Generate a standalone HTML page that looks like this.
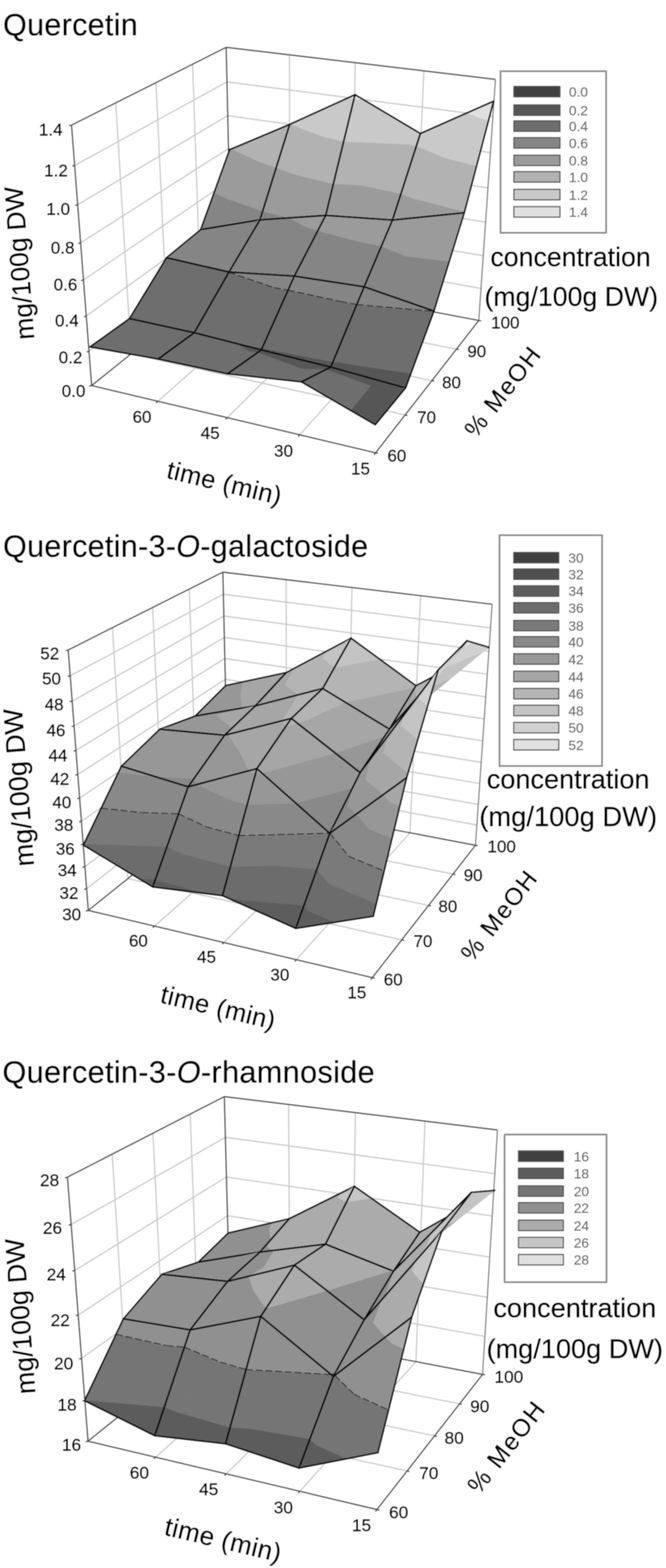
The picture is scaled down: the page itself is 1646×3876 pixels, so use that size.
<!DOCTYPE html>
<html><head><meta charset="utf-8"><title>Quercetin surface plots</title>
<style>
html,body{margin:0;padding:0;background:#fff}
svg{display:block}
text{font-family:"Liberation Sans",sans-serif;stroke:#000;stroke-width:0.9px;stroke-linejoin:round}
text.lg{stroke:#6a6a6a;stroke-width:0.5px}
</style></head><body>
<svg width="1646" height="3876" viewBox="0 0 1646 3876" fill="none" stroke-linejoin="round">
<defs><filter id="soft" x="0" y="0" width="100%" height="100%" filterUnits="userSpaceOnUse" primitiveUnits="userSpaceOnUse"><feGaussianBlur stdDeviation="0.9"/></filter></defs>
<rect width="1646" height="3876" fill="#fff"/>
<g filter="url(#soft)">
<rect width="1646" height="3876" fill="#fff"/>
<path d="M219.9,868.4 L570,601.1" stroke="#cacaca" stroke-width="3.2"/>
<path d="M570,601.1 L1188.7,713.1" stroke="#cacaca" stroke-width="3.2"/>
<path d="M213.2,781.4 L568.3,524.9" stroke="#cacaca" stroke-width="3.2"/>
<path d="M568.3,524.9 L1194.3,632.2" stroke="#cacaca" stroke-width="3.2"/>
<path d="M206.3,692.1 L566.5,447" stroke="#cacaca" stroke-width="3.2"/>
<path d="M566.5,447 L1200.1,549.2" stroke="#cacaca" stroke-width="3.2"/>
<path d="M199.2,600.3 L564.7,367.3" stroke="#cacaca" stroke-width="3.2"/>
<path d="M564.7,367.3 L1205.9,464.3" stroke="#cacaca" stroke-width="3.2"/>
<path d="M192,506 L562.9,285.8" stroke="#cacaca" stroke-width="3.2"/>
<path d="M562.9,285.8 L1212,377.2" stroke="#cacaca" stroke-width="3.2"/>
<path d="M184.5,409 L561,202.4" stroke="#cacaca" stroke-width="3.2"/>
<path d="M561,202.4 L1218.1,287.8" stroke="#cacaca" stroke-width="3.2"/>
<path d="M324.1,874.6 L286.1,254.3" stroke="#cacaca" stroke-width="3.2"/>
<path d="M716.1,703.1 L715.4,135.6" stroke="#cacaca" stroke-width="3.2"/>
<path d="M390.3,991.9 L716.1,703.1" stroke="#cacaca" stroke-width="3.2"/>
<path d="M324.1,874.6 L1001.2,1025.8" stroke="#cacaca" stroke-width="3.2"/>
<path d="M413.6,802.7 L385.5,204.3" stroke="#cacaca" stroke-width="3.2"/>
<path d="M866,731.7 L878.1,155" stroke="#cacaca" stroke-width="3.2"/>
<path d="M561.6,1032.5 L866,731.7" stroke="#cacaca" stroke-width="3.2"/>
<path d="M413.6,802.7 L1067.4,940.8" stroke="#cacaca" stroke-width="3.2"/>
<path d="M495.9,736.6 L476.1,158.7" stroke="#cacaca" stroke-width="3.2"/>
<path d="M1021.6,761.3 L1047.7,175.2" stroke="#cacaca" stroke-width="3.2"/>
<path d="M740.7,1074.9 L1021.6,761.3" stroke="#cacaca" stroke-width="3.2"/>
<path d="M495.9,736.6 L1127.9,863.2" stroke="#cacaca" stroke-width="3.2"/>
<path d="M176.8,309.3 L559,117" stroke="#505050" stroke-width="3.4"/>
<path d="M559,117 L1224.5,196.2" stroke="#505050" stroke-width="3.4"/>
<path d="M571.7,675.6 L559,117" stroke="#505050" stroke-width="3.4"/>
<path d="M226.5,953.1 L176.8,309.3" stroke="#505050" stroke-width="3.4"/>
<path d="M226.5,953.1 L928.3,1119.3" stroke="#505050" stroke-width="3.4"/>
<path d="M928.3,1119.3 L1183.3,792.2" stroke="#505050" stroke-width="3.4"/>
<path d="M226.5,953.1 L571.7,675.6" stroke="#505050" stroke-width="3.4"/>
<path d="M571.7,675.6 L1183.3,792.2" stroke="#505050" stroke-width="3.4"/>
<path d="M1183.3,792.2 L1224.5,196.2" stroke="#7c7c7c" stroke-width="3"/>
<path d="M226.5,953.1 L220.5,954.6" stroke="#505050" stroke-width="3.4"/>
<path d="M219.9,868.4 L213.9,869.9" stroke="#505050" stroke-width="3.4"/>
<path d="M213.2,781.4 L207.2,782.9" stroke="#505050" stroke-width="3.4"/>
<path d="M206.3,692.1 L200.3,693.6" stroke="#505050" stroke-width="3.4"/>
<path d="M199.2,600.3 L193.2,601.8" stroke="#505050" stroke-width="3.4"/>
<path d="M192,506 L186,507.5" stroke="#505050" stroke-width="3.4"/>
<path d="M184.5,409 L178.5,410.5" stroke="#505050" stroke-width="3.4"/>
<path d="M176.8,309.3 L170.8,310.8" stroke="#505050" stroke-width="3.4"/>
<path d="M390.3,991.9 L385.8,995.9" stroke="#505050" stroke-width="3.4"/>
<path d="M561.6,1032.5 L557.3,1036.7" stroke="#505050" stroke-width="3.4"/>
<path d="M740.7,1074.9 L736.7,1079.4" stroke="#505050" stroke-width="3.4"/>
<path d="M928.3,1119.3 L924.6,1124.1" stroke="#505050" stroke-width="3.4"/>
<path d="M928.3,1119.3 L934.2,1120.7" stroke="#505050" stroke-width="3.4"/>
<path d="M1001.2,1025.8 L1007.1,1027.1" stroke="#505050" stroke-width="3.4"/>
<path d="M1067.4,940.8 L1073.3,942" stroke="#505050" stroke-width="3.4"/>
<path d="M1127.9,863.2 L1133.8,864.4" stroke="#505050" stroke-width="3.4"/>
<path d="M1183.3,792.2 L1189.2,793.3" stroke="#505050" stroke-width="3.4"/>
<path d="M496,567.5 L560.7,491 L529.1,476.2 Z" fill="#858585" stroke="#858585" stroke-width="1"/>
<path d="M560.7,491 L638.5,399.1 L572.3,368 L567.5,370 L529.1,476.2 Z" fill="#9b9b9b" stroke="#9b9b9b" stroke-width="1"/>
<path d="M638.5,399.1 L716,307.5 L572.3,368 Z" fill="#b2b2b2" stroke="#b2b2b2" stroke-width="1"/>
<path d="M716,307.5 L567.5,370 M567.5,370 L496,567.5" stroke="#101010" stroke-width="4.2" fill="none" stroke-linecap="round"/>
<path d="M496,567.5 L642.5,543.5 L649.3,521.6 L560.7,491 Z" fill="#858585" stroke="#858585" stroke-width="1"/>
<path d="M649.3,521.6 L682.7,414.4 L638.5,399.1 L560.7,491 Z" fill="#9b9b9b" stroke="#9b9b9b" stroke-width="1"/>
<path d="M682.7,414.4 L716,307.5 L638.5,399.1 Z" fill="#b2b2b2" stroke="#b2b2b2" stroke-width="1"/>
<path d="M496,567.5 L642.5,543.5 M642.5,543.5 L716,307.5" stroke="#101010" stroke-width="4.2" fill="none" stroke-linecap="round"/>
<path d="M642.5,543.5 L657,524.4 L649.3,521.6 Z" fill="#858585" stroke="#858585" stroke-width="1"/>
<path d="M657,524.4 L728,430.9 L682.7,414.4 L649.3,521.6 Z" fill="#9b9b9b" stroke="#9b9b9b" stroke-width="1"/>
<path d="M728,430.9 L799,337.4 L716.5,307.3 L716,307.5 L682.7,414.4 Z" fill="#b2b2b2" stroke="#b2b2b2" stroke-width="1"/>
<path d="M799,337.4 L870,243.9 L862,241 L716.5,307.3 Z" fill="#c9c9c9" stroke="#c9c9c9" stroke-width="1"/>
<path d="M870,243.9 L877.5,234 L862,241 Z" fill="#e0e0e0" stroke="#e0e0e0" stroke-width="1"/>
<path d="M877.5,234 L716,307.5 M716,307.5 L642.5,543.5" stroke="#101010" stroke-width="4.2" fill="none" stroke-linecap="round"/>
<path d="M642.5,543.5 L714.6,538.6 L657,524.4 Z" fill="#858585" stroke="#858585" stroke-width="1"/>
<path d="M714.6,538.6 L805,532.5 L823.9,454.6 L728,430.9 L657,524.4 Z" fill="#9b9b9b" stroke="#9b9b9b" stroke-width="1"/>
<path d="M823.9,454.6 L849.4,349.8 L799,337.4 L728,430.9 Z" fill="#b2b2b2" stroke="#b2b2b2" stroke-width="1"/>
<path d="M849.4,349.8 L874.8,245.1 L870,243.9 L799,337.4 Z" fill="#c9c9c9" stroke="#c9c9c9" stroke-width="1"/>
<path d="M874.8,245.1 L877.5,234 L870,243.9 Z" fill="#e0e0e0" stroke="#e0e0e0" stroke-width="1"/>
<path d="M642.5,543.5 L805,532.5 M805,532.5 L877.5,234" stroke="#101010" stroke-width="4.2" fill="none" stroke-linecap="round"/>
<path d="M805,532.5 L891.8,457.4 L823.9,454.6 Z" fill="#9b9b9b" stroke="#9b9b9b" stroke-width="1"/>
<path d="M891.8,457.4 L1008.4,356.5 L849.4,349.8 L823.9,454.6 Z" fill="#b2b2b2" stroke="#b2b2b2" stroke-width="1"/>
<path d="M1008.4,356.5 L1039,330 L897.8,246.1 L874.8,245.1 L849.4,349.8 Z" fill="#c9c9c9" stroke="#c9c9c9" stroke-width="1"/>
<path d="M897.8,246.1 L877.5,234 L874.8,245.1 Z" fill="#e0e0e0" stroke="#e0e0e0" stroke-width="1"/>
<path d="M1039,330 L877.5,234 M877.5,234 L805,532.5" stroke="#101010" stroke-width="4.2" fill="none" stroke-linecap="round"/>
<path d="M805,532.5 L970,544 L991,478.8 L891.8,457.4 Z" fill="#9b9b9b" stroke="#9b9b9b" stroke-width="1"/>
<path d="M991,478.8 L1029,360.9 L1008.4,356.5 L891.8,457.4 Z" fill="#b2b2b2" stroke="#b2b2b2" stroke-width="1"/>
<path d="M1029,360.9 L1039,330 L1008.4,356.5 Z" fill="#c9c9c9" stroke="#c9c9c9" stroke-width="1"/>
<path d="M805,532.5 L970,544 M970,544 L1039,330" stroke="#101010" stroke-width="4.2" fill="none" stroke-linecap="round"/>
<path d="M970,544 L1016.6,489.2 L991,478.8 Z" fill="#9b9b9b" stroke="#9b9b9b" stroke-width="1"/>
<path d="M1016.6,489.2 L1100.8,390.2 L1029,360.9 L991,478.8 Z" fill="#b2b2b2" stroke="#b2b2b2" stroke-width="1"/>
<path d="M1100.8,390.2 L1185,291.2 L1154.7,278.9 L1039,330 L1029,360.9 Z" fill="#c9c9c9" stroke="#c9c9c9" stroke-width="1"/>
<path d="M1185,291.2 L1220,250 L1154.7,278.9 Z" fill="#e0e0e0" stroke="#e0e0e0" stroke-width="1"/>
<path d="M1220,250 L1039,330 M1039,330 L970,544" stroke="#101010" stroke-width="4.2" fill="none" stroke-linecap="round"/>
<path d="M970,544 L1147.5,526 L1148.2,523.2 L1016.6,489.2 Z" fill="#9b9b9b" stroke="#9b9b9b" stroke-width="1"/>
<path d="M1148.2,523.2 L1177.9,410.1 L1100.8,390.2 L1016.6,489.2 Z" fill="#b2b2b2" stroke="#b2b2b2" stroke-width="1"/>
<path d="M1177.9,410.1 L1207.6,297.1 L1185,291.2 L1100.8,390.2 Z" fill="#c9c9c9" stroke="#c9c9c9" stroke-width="1"/>
<path d="M1207.6,297.1 L1220,250 L1185,291.2 Z" fill="#e0e0e0" stroke="#e0e0e0" stroke-width="1"/>
<path d="M970,544 L1147.5,526 M1147.5,526 L1220,250" stroke="#101010" stroke-width="4.2" fill="none" stroke-linecap="round"/>
<path d="M411.5,637 L642.5,543.5 L496,567.5 Z" fill="#858585" stroke="#858585" stroke-width="1"/>
<path d="M642.5,543.5 L496,567.5 M496,567.5 L411.5,637" stroke="#101010" stroke-width="4.2" fill="none" stroke-linecap="round"/>
<path d="M411.5,637 L566,672.5 L642.5,543.5 Z" fill="#858585" stroke="#858585" stroke-width="1"/>
<path d="M411.5,637 L566,672.5 M566,672.5 L642.5,543.5" stroke="#101010" stroke-width="4.2" fill="none" stroke-linecap="round"/>
<path d="M566,672.5 L756.2,561.1 L714.6,538.6 L642.5,543.5 Z" fill="#858585" stroke="#858585" stroke-width="1"/>
<path d="M756.2,561.1 L805,532.5 L714.6,538.6 Z" fill="#9b9b9b" stroke="#9b9b9b" stroke-width="1"/>
<path d="M805,532.5 L642.5,543.5 M642.5,543.5 L566,672.5" stroke="#101010" stroke-width="4.2" fill="none" stroke-linecap="round"/>
<path d="M566,672.5 L727.5,682.5 L785.4,570.4 L756.2,561.1 Z" fill="#858585" stroke="#858585" stroke-width="1"/>
<path d="M785.4,570.4 L805,532.5 L756.2,561.1 Z" fill="#9b9b9b" stroke="#9b9b9b" stroke-width="1"/>
<path d="M566,672.5 L727.5,682.5 M727.5,682.5 L805,532.5" stroke="#101010" stroke-width="4.2" fill="none" stroke-linecap="round"/>
<path d="M727.5,682.5 L880,595.4 L785.4,570.4 Z" fill="#858585" stroke="#858585" stroke-width="1"/>
<path d="M880,595.4 L970,544 L805,532.5 L785.4,570.4 Z" fill="#9b9b9b" stroke="#9b9b9b" stroke-width="1"/>
<path d="M970,544 L805,532.5 M805,532.5 L727.5,682.5" stroke="#101010" stroke-width="4.2" fill="none" stroke-linecap="round"/>
<path d="M727.5,682.5 L900,709 L942.5,608.8 L880,595.4 Z" fill="#858585" stroke="#858585" stroke-width="1"/>
<path d="M942.5,608.8 L970,544 L880,595.4 Z" fill="#9b9b9b" stroke="#9b9b9b" stroke-width="1"/>
<path d="M727.5,682.5 L900,709 M900,709 L970,544" stroke="#101010" stroke-width="4.2" fill="none" stroke-linecap="round"/>
<path d="M900,709 L1002.6,633.1 L942.5,608.8 Z" fill="#858585" stroke="#858585" stroke-width="1"/>
<path d="M1002.6,633.1 L1147.5,526 L970,544 L942.5,608.8 Z" fill="#9b9b9b" stroke="#9b9b9b" stroke-width="1"/>
<path d="M1147.5,526 L970,544 M970,544 L900,709" stroke="#101010" stroke-width="4.2" fill="none" stroke-linecap="round"/>
<path d="M900,709 L1072.5,769 L1110.4,646.2 L1002.6,633.1 Z" fill="#858585" stroke="#858585" stroke-width="1"/>
<path d="M1110.4,646.2 L1147.5,526 L1002.6,633.1 Z" fill="#9b9b9b" stroke="#9b9b9b" stroke-width="1"/>
<path d="M900,709 L1072.5,769 M1072.5,769 L1147.5,526" stroke="#101010" stroke-width="4.2" fill="none" stroke-linecap="round"/>
<path d="M320,787.5 L565,673 L411.1,637.6 Z" fill="#6e6e6e" stroke="#6e6e6e" stroke-width="1"/>
<path d="M565,673 L566,672.5 L411.5,637 L411.1,637.6 Z" fill="#858585" stroke="#858585" stroke-width="1"/>
<path d="M411.1,637.6 L565,673" stroke="#303030" stroke-width="2.6" stroke-dasharray="17 7" fill="none"/>
<path d="M566,672.5 L411.5,637 M411.5,637 L320,787.5" stroke="#101010" stroke-width="4.2" fill="none" stroke-linecap="round"/>
<path d="M320,787.5 L480,822.5 L565.6,673.1 L565,673 Z" fill="#6e6e6e" stroke="#6e6e6e" stroke-width="1"/>
<path d="M565.6,673.1 L566,672.5 L565,673 Z" fill="#858585" stroke="#858585" stroke-width="1"/>
<path d="M565,673 L565.6,673.1" stroke="#303030" stroke-width="2.6" stroke-dasharray="17 7" fill="none"/>
<path d="M320,787.5 L480,822.5 M480,822.5 L566,672.5" stroke="#101010" stroke-width="4.2" fill="none" stroke-linecap="round"/>
<path d="M480,822.5 L677.1,711 L565.6,673.1 Z" fill="#6e6e6e" stroke="#6e6e6e" stroke-width="1"/>
<path d="M677.1,711 L727.5,682.5 L566,672.5 L565.6,673.1 Z" fill="#858585" stroke="#858585" stroke-width="1"/>
<path d="M565.6,673.1 L677.1,711" stroke="#303030" stroke-width="2.6" stroke-dasharray="17 7" fill="none"/>
<path d="M727.5,682.5 L566,672.5 M566,672.5 L480,822.5" stroke="#101010" stroke-width="4.2" fill="none" stroke-linecap="round"/>
<path d="M583.1,848.9 L646,865 L647.9,860.6 Z" fill="#575757" stroke="#575757" stroke-width="1"/>
<path d="M480,822.5 L583.1,848.9 L647.9,860.6 L712,717.3 L677.1,711 Z" fill="#6e6e6e" stroke="#6e6e6e" stroke-width="1"/>
<path d="M712,717.3 L727.5,682.5 L677.1,711 Z" fill="#858585" stroke="#858585" stroke-width="1"/>
<path d="M677.1,711 L712,717.3" stroke="#303030" stroke-width="2.6" stroke-dasharray="17 7" fill="none"/>
<path d="M480,822.5 L646,865 M646,865 L727.5,682.5" stroke="#101010" stroke-width="4.2" fill="none" stroke-linecap="round"/>
<path d="M646,865 L651.8,861.5 L647.9,860.6 Z" fill="#575757" stroke="#575757" stroke-width="1"/>
<path d="M651.8,861.5 L841.4,745 L712,717.3 L647.9,860.6 Z" fill="#6e6e6e" stroke="#6e6e6e" stroke-width="1"/>
<path d="M841.4,745 L900,709 L727.5,682.5 L712,717.3 Z" fill="#858585" stroke="#858585" stroke-width="1"/>
<path d="M712,717.3 L841.4,745" stroke="#303030" stroke-width="2.6" stroke-dasharray="17 7" fill="none"/>
<path d="M900,709 L727.5,682.5 M727.5,682.5 L646,865" stroke="#101010" stroke-width="4.2" fill="none" stroke-linecap="round"/>
<path d="M646,865 L817.5,907.5 L822.9,894.6 L651.8,861.5 Z" fill="#575757" stroke="#575757" stroke-width="1"/>
<path d="M822.9,894.6 L881.8,752.8 L841.4,745 L651.8,861.5 Z" fill="#6e6e6e" stroke="#6e6e6e" stroke-width="1"/>
<path d="M881.8,752.8 L900,709 L841.4,745 Z" fill="#858585" stroke="#858585" stroke-width="1"/>
<path d="M841.4,745 L881.8,752.8" stroke="#303030" stroke-width="2.6" stroke-dasharray="17 7" fill="none"/>
<path d="M646,865 L817.5,907.5 M817.5,907.5 L900,709" stroke="#101010" stroke-width="4.2" fill="none" stroke-linecap="round"/>
<path d="M817.5,907.5 L838.8,896 L822.9,894.6 Z" fill="#575757" stroke="#575757" stroke-width="1"/>
<path d="M838.8,896 L1071.6,769.5 L881.8,752.8 L822.9,894.6 Z" fill="#6e6e6e" stroke="#6e6e6e" stroke-width="1"/>
<path d="M1071.6,769.5 L1072.5,769 L900,709 L881.8,752.8 Z" fill="#858585" stroke="#858585" stroke-width="1"/>
<path d="M881.8,752.8 L1071.6,769.5" stroke="#303030" stroke-width="2.6" stroke-dasharray="17 7" fill="none"/>
<path d="M1072.5,769 L900,709 M900,709 L817.5,907.5" stroke="#101010" stroke-width="4.2" fill="none" stroke-linecap="round"/>
<path d="M817.5,907.5 L1002.5,959 L1015.7,923.3 L838.8,896 Z" fill="#575757" stroke="#575757" stroke-width="1"/>
<path d="M1015.7,923.3 L1072.3,769.6 L1071.6,769.5 L838.8,896 Z" fill="#6e6e6e" stroke="#6e6e6e" stroke-width="1"/>
<path d="M1072.3,769.6 L1072.5,769 L1071.6,769.5 Z" fill="#858585" stroke="#858585" stroke-width="1"/>
<path d="M1071.6,769.5 L1072.3,769.6" stroke="#303030" stroke-width="2.6" stroke-dasharray="17 7" fill="none"/>
<path d="M817.5,907.5 L1002.5,959 M1002.5,959 L1072.5,769" stroke="#101010" stroke-width="4.2" fill="none" stroke-linecap="round"/>
<path d="M222.5,857.5 L480,822.5 L320,787.5 Z" fill="#6e6e6e" stroke="#6e6e6e" stroke-width="1"/>
<path d="M480,822.5 L320,787.5 M320,787.5 L222.5,857.5" stroke="#101010" stroke-width="4.2" fill="none" stroke-linecap="round"/>
<path d="M222.5,857.5 L391,887.5 L480,822.5 Z" fill="#6e6e6e" stroke="#6e6e6e" stroke-width="1"/>
<path d="M222.5,857.5 L391,887.5 M391,887.5 L480,822.5" stroke="#101010" stroke-width="4.2" fill="none" stroke-linecap="round"/>
<path d="M613,867.9 L646,865 L583.1,848.9 Z" fill="#575757" stroke="#575757" stroke-width="1"/>
<path d="M391,887.5 L613,867.9 L583.1,848.9 L480,822.5 Z" fill="#6e6e6e" stroke="#6e6e6e" stroke-width="1"/>
<path d="M646,865 L480,822.5 M480,822.5 L391,887.5" stroke="#101010" stroke-width="4.2" fill="none" stroke-linecap="round"/>
<path d="M636.4,871.8 L646,865 L613,867.9 Z" fill="#575757" stroke="#575757" stroke-width="1"/>
<path d="M391,887.5 L562.5,924 L636.4,871.8 L613,867.9 Z" fill="#6e6e6e" stroke="#6e6e6e" stroke-width="1"/>
<path d="M391,887.5 L562.5,924 M562.5,924 L646,865" stroke="#101010" stroke-width="4.2" fill="none" stroke-linecap="round"/>
<path d="M746.2,912.1 L817.5,907.5 L646,865 L636.4,871.8 Z" fill="#575757" stroke="#575757" stroke-width="1"/>
<path d="M562.5,924 L746.2,912.1 L636.4,871.8 Z" fill="#6e6e6e" stroke="#6e6e6e" stroke-width="1"/>
<path d="M817.5,907.5 L646,865 M646,865 L562.5,924" stroke="#101010" stroke-width="4.2" fill="none" stroke-linecap="round"/>
<path d="M805.5,913.5 L817.5,907.5 L746.2,912.1 Z" fill="#575757" stroke="#575757" stroke-width="1"/>
<path d="M562.5,924 L745,944 L805.5,913.5 L746.2,912.1 Z" fill="#6e6e6e" stroke="#6e6e6e" stroke-width="1"/>
<path d="M562.5,924 L745,944 M745,944 L817.5,907.5" stroke="#101010" stroke-width="4.2" fill="none" stroke-linecap="round"/>
<path d="M916.3,954 L1002.5,959 L817.5,907.5 L805.5,913.5 Z" fill="#575757" stroke="#575757" stroke-width="1"/>
<path d="M745,944 L916.3,954 L805.5,913.5 Z" fill="#6e6e6e" stroke="#6e6e6e" stroke-width="1"/>
<path d="M1002.5,959 L817.5,907.5 M817.5,907.5 L745,944" stroke="#101010" stroke-width="4.2" fill="none" stroke-linecap="round"/>
<path d="M866.4,1014.5 L927.5,1050 L1002.5,959 L916.3,954 Z" fill="#575757" stroke="#575757" stroke-width="1"/>
<path d="M745,944 L866.4,1014.5 L916.3,954 Z" fill="#6e6e6e" stroke="#6e6e6e" stroke-width="1"/>
<path d="M745,944 L927.5,1050 M927.5,1050 L1002.5,959" stroke="#101010" stroke-width="4.2" fill="none" stroke-linecap="round"/>
<text x="7.5" y="87" font-size="75.5" text-anchor="start" fill="#000" letter-spacing="0.7">Quercetin</text>
<text x="154.5" y="335" font-size="42" text-anchor="end" fill="#000">1.4</text>
<text x="167.5" y="436" font-size="42" text-anchor="end" fill="#000">1.2</text>
<text x="173" y="531" font-size="42" text-anchor="end" fill="#000">1.0</text>
<text x="184" y="627" font-size="42" text-anchor="end" fill="#000">0.8</text>
<text x="191" y="718" font-size="42" text-anchor="end" fill="#000">0.6</text>
<text x="194.5" y="807" font-size="42" text-anchor="end" fill="#000">0.4</text>
<text x="203.5" y="898" font-size="42" text-anchor="end" fill="#000">0.2</text>
<text x="211" y="981" font-size="42" text-anchor="end" fill="#000">0.0</text>
<text x="351" y="1045" font-size="42" text-anchor="middle" fill="#000">60</text>
<text x="519.4" y="1085.3" font-size="42" text-anchor="middle" fill="#000">45</text>
<text x="700.7" y="1129.2" font-size="42" text-anchor="middle" fill="#000">30</text>
<text x="890.9" y="1173" font-size="42" text-anchor="middle" fill="#000">15</text>
<text x="957.5" y="1141" font-size="42" text-anchor="start" fill="#000">60</text>
<text x="1031" y="1046" font-size="42" text-anchor="start" fill="#000">70</text>
<text x="1092.5" y="960" font-size="42" text-anchor="start" fill="#000">80</text>
<text x="1154.9" y="883.4" font-size="42" text-anchor="start" fill="#000">90</text>
<text x="1213.8" y="812" font-size="42" text-anchor="start" fill="#000">100</text>
<text x="0" y="0" font-size="63" text-anchor="start" fill="#000" transform="translate(409,1181) rotate(13.4)" letter-spacing="1">time (min)</text>
<text x="0" y="0" font-size="60" text-anchor="start" fill="#000" transform="translate(1176.6,1085.3) rotate(-51.9)" letter-spacing="4">% MeOH</text>
<text x="0" y="0" font-size="65" text-anchor="start" fill="#000" transform="translate(84.7,838) rotate(-94.4)">mg/100g DW</text>
<text x="1212" y="658" font-size="66" text-anchor="start" fill="#000">concentration</text>
<text x="1197.3" y="755.5" font-size="66" text-anchor="start" fill="#000">(mg/100g DW)</text>
<rect x="1237" y="176" width="261" height="399.5" fill="#fff" stroke="#8c8c8c" stroke-width="4.5"/>
<rect x="1270" y="213.6" width="114" height="26" fill="#404040" stroke="#555" stroke-width="3"/>
<text x="1406" y="239.1" font-size="34" text-anchor="start" fill="#6a6a6a" class="lg">0.0</text>
<rect x="1270" y="259.3" width="114" height="26" fill="#575757" stroke="#555" stroke-width="3"/>
<text x="1406" y="284.8" font-size="34" text-anchor="start" fill="#6a6a6a" class="lg">0.2</text>
<rect x="1270" y="298.7" width="114" height="26" fill="#6e6e6e" stroke="#555" stroke-width="3"/>
<text x="1406" y="324.2" font-size="34" text-anchor="start" fill="#6a6a6a" class="lg">0.4</text>
<rect x="1270" y="340.3" width="114" height="26" fill="#858585" stroke="#555" stroke-width="3"/>
<text x="1406" y="365.8" font-size="34" text-anchor="start" fill="#6a6a6a" class="lg">0.6</text>
<rect x="1270" y="383.6" width="114" height="26" fill="#9b9b9b" stroke="#555" stroke-width="3"/>
<text x="1406" y="409.1" font-size="34" text-anchor="start" fill="#6a6a6a" class="lg">0.8</text>
<rect x="1270" y="424.2" width="114" height="26" fill="#b2b2b2" stroke="#555" stroke-width="3"/>
<text x="1406" y="449.7" font-size="34" text-anchor="start" fill="#6a6a6a" class="lg">1.0</text>
<rect x="1270" y="468.1" width="114" height="26" fill="#c9c9c9" stroke="#555" stroke-width="3"/>
<text x="1406" y="493.6" font-size="34" text-anchor="start" fill="#6a6a6a" class="lg">1.2</text>
<rect x="1270" y="510.8" width="114" height="26" fill="#e0e0e0" stroke="#555" stroke-width="3"/>
<text x="1406" y="536.3" font-size="34" text-anchor="start" fill="#6a6a6a" class="lg">1.4</text>
<path d="M214.1,2196.8 L562.5,1925.7" stroke="#cacaca" stroke-width="3.2"/>
<path d="M562.5,1925.7 L1178.5,2039.4" stroke="#cacaca" stroke-width="3.2"/>
<path d="M209.9,2142.3 L561.4,1877.8" stroke="#cacaca" stroke-width="3.2"/>
<path d="M561.4,1877.8 L1182,1988.6" stroke="#cacaca" stroke-width="3.2"/>
<path d="M205.6,2086.8 L560.3,1829.3" stroke="#cacaca" stroke-width="3.2"/>
<path d="M560.3,1829.3 L1185.6,1937" stroke="#cacaca" stroke-width="3.2"/>
<path d="M201.3,2030.3 L559.1,1780" stroke="#cacaca" stroke-width="3.2"/>
<path d="M559.1,1780 L1189.2,1884.6" stroke="#cacaca" stroke-width="3.2"/>
<path d="M196.8,1972.9 L558,1730" stroke="#cacaca" stroke-width="3.2"/>
<path d="M558,1730 L1192.9,1831.3" stroke="#cacaca" stroke-width="3.2"/>
<path d="M192.3,1914.5 L556.9,1679.3" stroke="#cacaca" stroke-width="3.2"/>
<path d="M556.9,1679.3 L1196.7,1777.2" stroke="#cacaca" stroke-width="3.2"/>
<path d="M187.7,1855.1 L555.7,1627.9" stroke="#cacaca" stroke-width="3.2"/>
<path d="M555.7,1627.9 L1200.5,1722.3" stroke="#cacaca" stroke-width="3.2"/>
<path d="M183.1,1794.7 L554.5,1575.7" stroke="#cacaca" stroke-width="3.2"/>
<path d="M554.5,1575.7 L1204.3,1666.5" stroke="#cacaca" stroke-width="3.2"/>
<path d="M178.3,1733.1 L553.3,1522.7" stroke="#cacaca" stroke-width="3.2"/>
<path d="M553.3,1522.7 L1208.2,1609.8" stroke="#cacaca" stroke-width="3.2"/>
<path d="M173.5,1670.5 L552.1,1468.9" stroke="#cacaca" stroke-width="3.2"/>
<path d="M552.1,1468.9 L1212.2,1552.2" stroke="#cacaca" stroke-width="3.2"/>
<path d="M315.9,2172 L277.9,1551.7" stroke="#cacaca" stroke-width="3.2"/>
<path d="M707.9,2000.5 L707.2,1433" stroke="#cacaca" stroke-width="3.2"/>
<path d="M382.1,2289.3 L707.9,2000.5" stroke="#cacaca" stroke-width="3.2"/>
<path d="M315.9,2172 L993,2323.2" stroke="#cacaca" stroke-width="3.2"/>
<path d="M405.4,2100 L377.2,1501.7" stroke="#cacaca" stroke-width="3.2"/>
<path d="M857.7,2029 L869.9,1452.3" stroke="#cacaca" stroke-width="3.2"/>
<path d="M553.4,2329.8 L857.7,2029" stroke="#cacaca" stroke-width="3.2"/>
<path d="M405.4,2100 L1059.2,2238.2" stroke="#cacaca" stroke-width="3.2"/>
<path d="M487.7,2033.9 L467.8,1456.1" stroke="#cacaca" stroke-width="3.2"/>
<path d="M1013.3,2058.7 L1039.5,1472.5" stroke="#cacaca" stroke-width="3.2"/>
<path d="M732.5,2372.3 L1013.3,2058.7" stroke="#cacaca" stroke-width="3.2"/>
<path d="M487.7,2033.9 L1119.7,2160.6" stroke="#cacaca" stroke-width="3.2"/>
<path d="M168.6,1606.7 L550.8,1414.3" stroke="#505050" stroke-width="3.4"/>
<path d="M550.8,1414.3 L1216.3,1493.6" stroke="#505050" stroke-width="3.4"/>
<path d="M563.5,1972.9 L550.8,1414.3" stroke="#505050" stroke-width="3.4"/>
<path d="M218.2,2250.5 L168.6,1606.7" stroke="#505050" stroke-width="3.4"/>
<path d="M218.2,2250.5 L920.1,2416.7" stroke="#505050" stroke-width="3.4"/>
<path d="M920.1,2416.7 L1175.1,2089.5" stroke="#505050" stroke-width="3.4"/>
<path d="M218.2,2250.5 L563.5,1972.9" stroke="#505050" stroke-width="3.4"/>
<path d="M563.5,1972.9 L1175.1,2089.5" stroke="#505050" stroke-width="3.4"/>
<path d="M1175.1,2089.5 L1216.3,1493.6" stroke="#7c7c7c" stroke-width="3"/>
<path d="M218.2,2250.5 L212.2,2252" stroke="#505050" stroke-width="3.4"/>
<path d="M214.1,2196.8 L208.1,2198.3" stroke="#505050" stroke-width="3.4"/>
<path d="M209.9,2142.3 L203.9,2143.8" stroke="#505050" stroke-width="3.4"/>
<path d="M205.6,2086.8 L199.6,2088.3" stroke="#505050" stroke-width="3.4"/>
<path d="M201.3,2030.3 L195.3,2031.8" stroke="#505050" stroke-width="3.4"/>
<path d="M196.8,1972.9 L190.8,1974.4" stroke="#505050" stroke-width="3.4"/>
<path d="M192.3,1914.5 L186.3,1916" stroke="#505050" stroke-width="3.4"/>
<path d="M187.7,1855.1 L181.7,1856.6" stroke="#505050" stroke-width="3.4"/>
<path d="M183.1,1794.7 L177.1,1796.2" stroke="#505050" stroke-width="3.4"/>
<path d="M178.3,1733.1 L172.3,1734.6" stroke="#505050" stroke-width="3.4"/>
<path d="M173.5,1670.5 L167.5,1672" stroke="#505050" stroke-width="3.4"/>
<path d="M168.6,1606.7 L162.6,1608.2" stroke="#505050" stroke-width="3.4"/>
<path d="M382.1,2289.3 L377.6,2293.3" stroke="#505050" stroke-width="3.4"/>
<path d="M553.4,2329.8 L549.1,2334.1" stroke="#505050" stroke-width="3.4"/>
<path d="M732.5,2372.3 L728.5,2376.7" stroke="#505050" stroke-width="3.4"/>
<path d="M920.1,2416.7 L916.4,2421.4" stroke="#505050" stroke-width="3.4"/>
<path d="M920.1,2416.7 L926,2418.1" stroke="#505050" stroke-width="3.4"/>
<path d="M993,2323.2 L998.9,2324.5" stroke="#505050" stroke-width="3.4"/>
<path d="M1059.2,2238.2 L1065.1,2239.4" stroke="#505050" stroke-width="3.4"/>
<path d="M1119.7,2160.6 L1125.6,2161.8" stroke="#505050" stroke-width="3.4"/>
<path d="M1175.1,2089.5 L1181,2090.7" stroke="#505050" stroke-width="3.4"/>
<path d="M482.5,1770 L594,1716.7 L600,1685.5 L558,1694.5 Z" fill="#979797" stroke="#979797" stroke-width="1"/>
<path d="M594,1716.7 L707.5,1662.5 L600,1685.5 Z" fill="#a6a6a6" stroke="#a6a6a6" stroke-width="1"/>
<path d="M707.5,1662.5 L558,1694.5 M558,1694.5 L482.5,1770" stroke="#101010" stroke-width="4.2" fill="none" stroke-linecap="round"/>
<path d="M482.5,1770 L599.5,1750.3 L594,1716.7 Z" fill="#979797" stroke="#979797" stroke-width="1"/>
<path d="M599.5,1750.3 L631,1745 L707.5,1662.5 L594,1716.7 Z" fill="#a6a6a6" stroke="#a6a6a6" stroke-width="1"/>
<path d="M482.5,1770 L631,1745 M631,1745 L707.5,1662.5" stroke="#101010" stroke-width="4.2" fill="none" stroke-linecap="round"/>
<path d="M631,1745 L704.7,1692.8 L726.4,1652.5 L707.5,1662.5 Z" fill="#a6a6a6" stroke="#a6a6a6" stroke-width="1"/>
<path d="M704.7,1692.8 L796.9,1627.5 L806.3,1610 L726.4,1652.5 Z" fill="#b4b4b4" stroke="#b4b4b4" stroke-width="1"/>
<path d="M796.9,1627.5 L867.5,1577.5 L806.3,1610 Z" fill="#c3c3c3" stroke="#c3c3c3" stroke-width="1"/>
<path d="M867.5,1577.5 L707.5,1662.5 M707.5,1662.5 L631,1745" stroke="#101010" stroke-width="4.2" fill="none" stroke-linecap="round"/>
<path d="M631,1745 L737.6,1717.5 L704.7,1692.8 Z" fill="#a6a6a6" stroke="#a6a6a6" stroke-width="1"/>
<path d="M737.6,1717.5 L797.5,1702 L826.8,1649.8 L796.9,1627.5 L704.7,1692.8 Z" fill="#b4b4b4" stroke="#b4b4b4" stroke-width="1"/>
<path d="M826.8,1649.8 L867.5,1577.5 L796.9,1627.5 Z" fill="#c3c3c3" stroke="#c3c3c3" stroke-width="1"/>
<path d="M631,1745 L797.5,1702 M797.5,1702 L867.5,1577.5" stroke="#101010" stroke-width="4.2" fill="none" stroke-linecap="round"/>
<path d="M797.5,1702 L1028,1695 L938.6,1629.6 L826.8,1649.8 Z" fill="#b4b4b4" stroke="#b4b4b4" stroke-width="1"/>
<path d="M938.6,1629.6 L867.5,1577.5 L826.8,1649.8 Z" fill="#c3c3c3" stroke="#c3c3c3" stroke-width="1"/>
<path d="M1028,1695 L867.5,1577.5 M867.5,1577.5 L797.5,1702" stroke="#101010" stroke-width="4.2" fill="none" stroke-linecap="round"/>
<path d="M853.2,1735.9 L962.5,1802.5 L1025.3,1699.5 Z" fill="#a6a6a6" stroke="#a6a6a6" stroke-width="1"/>
<path d="M797.5,1702 L853.2,1735.9 L1025.3,1699.5 L1028,1695 Z" fill="#b4b4b4" stroke="#b4b4b4" stroke-width="1"/>
<path d="M797.5,1702 L962.5,1802.5 M962.5,1802.5 L1028,1695" stroke="#101010" stroke-width="4.2" fill="none" stroke-linecap="round"/>
<path d="M962.5,1802.5 L1033.3,1744.1 L1025.3,1699.5 Z" fill="#a6a6a6" stroke="#a6a6a6" stroke-width="1"/>
<path d="M1033.3,1744.1 L1113.8,1677.7 L1109.2,1652.2 L1028,1695 L1025.3,1699.5 Z" fill="#b4b4b4" stroke="#b4b4b4" stroke-width="1"/>
<path d="M1113.8,1677.7 L1194.2,1611.3 L1193.6,1607.6 L1109.2,1652.2 Z" fill="#c3c3c3" stroke="#c3c3c3" stroke-width="1"/>
<path d="M1194.2,1611.3 L1208,1600 L1193.6,1607.6 Z" fill="#d1d1d1" stroke="#d1d1d1" stroke-width="1"/>
<path d="M1208,1600 L1028,1695 M1028,1695 L962.5,1802.5" stroke="#101010" stroke-width="4.2" fill="none" stroke-linecap="round"/>
<path d="M962.5,1802.5 L1002.6,1756.8 L1033.3,1744.1 Z" fill="#a6a6a6" stroke="#a6a6a6" stroke-width="1"/>
<path d="M1002.6,1756.8 L1048.1,1704.9 L1113.8,1677.7 L1033.3,1744.1 Z" fill="#b4b4b4" stroke="#b4b4b4" stroke-width="1"/>
<path d="M1048.1,1704.9 L1093.6,1652.9 L1194.2,1611.3 L1113.8,1677.7 Z" fill="#c3c3c3" stroke="#c3c3c3" stroke-width="1"/>
<path d="M1093.6,1652.9 L1139.1,1601 L1169.3,1588.5 L1208,1600 L1194.2,1611.3 Z" fill="#d1d1d1" stroke="#d1d1d1" stroke-width="1"/>
<path d="M1139.1,1601 L1154,1584 L1169.3,1588.5 Z" fill="#e0e0e0" stroke="#e0e0e0" stroke-width="1"/>
<path d="M962.5,1802.5 L1154,1584 M1154,1584 L1208,1600" stroke="#101010" stroke-width="4.2" fill="none" stroke-linecap="round"/>
<path d="M395,1802.5 L535.1,1768.4 L599.5,1750.3 L482.5,1770 Z" fill="#979797" stroke="#979797" stroke-width="1"/>
<path d="M535.1,1768.4 L631,1745 L599.5,1750.3 Z" fill="#a6a6a6" stroke="#a6a6a6" stroke-width="1"/>
<path d="M631,1745 L482.5,1770 M482.5,1770 L395,1802.5" stroke="#101010" stroke-width="4.2" fill="none" stroke-linecap="round"/>
<path d="M395,1802.5 L555,1817.5 L573.5,1799.8 L535.1,1768.4 Z" fill="#979797" stroke="#979797" stroke-width="1"/>
<path d="M573.5,1799.8 L631,1745 L535.1,1768.4 Z" fill="#a6a6a6" stroke="#a6a6a6" stroke-width="1"/>
<path d="M395,1802.5 L555,1817.5 M555,1817.5 L631,1745" stroke="#101010" stroke-width="4.2" fill="none" stroke-linecap="round"/>
<path d="M555,1817.5 L565.4,1812.5 L573.5,1799.8 Z" fill="#979797" stroke="#979797" stroke-width="1"/>
<path d="M565.4,1812.5 L725.6,1736.2 L737.6,1717.5 L631,1745 L573.5,1799.8 Z" fill="#a6a6a6" stroke="#a6a6a6" stroke-width="1"/>
<path d="M725.6,1736.2 L797.5,1702 L737.6,1717.5 Z" fill="#b4b4b4" stroke="#b4b4b4" stroke-width="1"/>
<path d="M797.5,1702 L631,1745 M631,1745 L555,1817.5" stroke="#101010" stroke-width="4.2" fill="none" stroke-linecap="round"/>
<path d="M555,1817.5 L563.7,1815.3 L565.4,1812.5 Z" fill="#979797" stroke="#979797" stroke-width="1"/>
<path d="M563.7,1815.3 L697.8,1781.6 L725.6,1736.2 L565.4,1812.5 Z" fill="#a6a6a6" stroke="#a6a6a6" stroke-width="1"/>
<path d="M697.8,1781.6 L720,1776 L797.5,1702 L725.6,1736.2 Z" fill="#b4b4b4" stroke="#b4b4b4" stroke-width="1"/>
<path d="M555,1817.5 L720,1776 M720,1776 L797.5,1702" stroke="#101010" stroke-width="4.2" fill="none" stroke-linecap="round"/>
<path d="M758.4,1780.2 L962.5,1802.5 L853.2,1735.9 Z" fill="#a6a6a6" stroke="#a6a6a6" stroke-width="1"/>
<path d="M720,1776 L758.4,1780.2 L853.2,1735.9 L797.5,1702 Z" fill="#b4b4b4" stroke="#b4b4b4" stroke-width="1"/>
<path d="M962.5,1802.5 L797.5,1702 M797.5,1702 L720,1776" stroke="#101010" stroke-width="4.2" fill="none" stroke-linecap="round"/>
<path d="M828.6,1861.6 L890,1910 L951.4,1819 Z" fill="#979797" stroke="#979797" stroke-width="1"/>
<path d="M735.4,1788.1 L828.6,1861.6 L951.4,1819 L962.5,1802.5 L758.4,1780.2 Z" fill="#a6a6a6" stroke="#a6a6a6" stroke-width="1"/>
<path d="M720,1776 L735.4,1788.1 L758.4,1780.2 Z" fill="#b4b4b4" stroke="#b4b4b4" stroke-width="1"/>
<path d="M720,1776 L890,1910 M890,1910 L962.5,1802.5" stroke="#101010" stroke-width="4.2" fill="none" stroke-linecap="round"/>
<path d="M890,1910 L924.9,1866.9 L951.4,1819 Z" fill="#979797" stroke="#979797" stroke-width="1"/>
<path d="M924.9,1866.9 L977.9,1801.5 L1002.6,1756.8 L962.5,1802.5 L951.4,1819 Z" fill="#a6a6a6" stroke="#a6a6a6" stroke-width="1"/>
<path d="M977.9,1801.5 L1030.8,1736.1 L1048.1,1704.9 L1002.6,1756.8 Z" fill="#b4b4b4" stroke="#b4b4b4" stroke-width="1"/>
<path d="M1030.8,1736.1 L1083.7,1670.8 L1093.6,1652.9 L1048.1,1704.9 Z" fill="#c3c3c3" stroke="#c3c3c3" stroke-width="1"/>
<path d="M1083.7,1670.8 L1136.7,1605.4 L1139.1,1601 L1093.6,1652.9 Z" fill="#d1d1d1" stroke="#d1d1d1" stroke-width="1"/>
<path d="M1136.7,1605.4 L1154,1584 L1139.1,1601 Z" fill="#e0e0e0" stroke="#e0e0e0" stroke-width="1"/>
<path d="M1154,1584 L962.5,1802.5 M962.5,1802.5 L890,1910" stroke="#101010" stroke-width="4.2" fill="none" stroke-linecap="round"/>
<path d="M890,1910 L916.9,1874.6 L924.9,1866.9 Z" fill="#979797" stroke="#979797" stroke-width="1"/>
<path d="M916.9,1874.6 L957.7,1820.9 L977.9,1801.5 L924.9,1866.9 Z" fill="#a6a6a6" stroke="#a6a6a6" stroke-width="1"/>
<path d="M957.7,1820.9 L998.5,1767.1 L1030.8,1736.1 L977.9,1801.5 Z" fill="#b4b4b4" stroke="#b4b4b4" stroke-width="1"/>
<path d="M998.5,1767.1 L1039.4,1713.4 L1083.7,1670.8 L1030.8,1736.1 Z" fill="#c3c3c3" stroke="#c3c3c3" stroke-width="1"/>
<path d="M1039.4,1713.4 L1080.2,1659.7 L1136.7,1605.4 L1083.7,1670.8 Z" fill="#d1d1d1" stroke="#d1d1d1" stroke-width="1"/>
<path d="M1080.2,1659.7 L1083,1656 L1154,1584 L1136.7,1605.4 Z" fill="#e0e0e0" stroke="#e0e0e0" stroke-width="1"/>
<path d="M890,1910 L1083,1656 M1083,1656 L1154,1584" stroke="#101010" stroke-width="4.2" fill="none" stroke-linecap="round"/>
<path d="M300,1894 L555,1817.5 L395,1802.5 Z" fill="#979797" stroke="#979797" stroke-width="1"/>
<path d="M555,1817.5 L395,1802.5 M395,1802.5 L300,1894" stroke="#101010" stroke-width="4.2" fill="none" stroke-linecap="round"/>
<path d="M382.5,1919.5 L465,1945 L479.3,1924.8 Z" fill="#898989" stroke="#898989" stroke-width="1"/>
<path d="M300,1894 L382.5,1919.5 L479.3,1924.8 L555,1817.5 Z" fill="#979797" stroke="#979797" stroke-width="1"/>
<path d="M300,1894 L465,1945 M465,1945 L555,1817.5" stroke="#101010" stroke-width="4.2" fill="none" stroke-linecap="round"/>
<path d="M465,1945 L484.2,1932.3 L479.3,1924.8 Z" fill="#898989" stroke="#898989" stroke-width="1"/>
<path d="M484.2,1932.3 L593.1,1860.1 L563.7,1815.3 L555,1817.5 L479.3,1924.8 Z" fill="#979797" stroke="#979797" stroke-width="1"/>
<path d="M593.1,1860.1 L702,1787.9 L697.8,1781.6 L563.7,1815.3 Z" fill="#a6a6a6" stroke="#a6a6a6" stroke-width="1"/>
<path d="M702,1787.9 L720,1776 L697.8,1781.6 Z" fill="#b4b4b4" stroke="#b4b4b4" stroke-width="1"/>
<path d="M720,1776 L555,1817.5 M555,1817.5 L465,1945" stroke="#101010" stroke-width="4.2" fill="none" stroke-linecap="round"/>
<path d="M465,1945 L487.6,1939 L484.2,1932.3 Z" fill="#898989" stroke="#898989" stroke-width="1"/>
<path d="M487.6,1939 L615.5,1905.2 L593.1,1860.1 L484.2,1932.3 Z" fill="#979797" stroke="#979797" stroke-width="1"/>
<path d="M615.5,1905.2 L635,1900 L706.1,1796.3 L702,1787.9 L593.1,1860.1 Z" fill="#a6a6a6" stroke="#a6a6a6" stroke-width="1"/>
<path d="M706.1,1796.3 L720,1776 L702,1787.9 Z" fill="#b4b4b4" stroke="#b4b4b4" stroke-width="1"/>
<path d="M465,1945 L635,1900 M635,1900 L720,1776" stroke="#101010" stroke-width="4.2" fill="none" stroke-linecap="round"/>
<path d="M682.9,1901.9 L890,1910 L828.6,1861.6 Z" fill="#979797" stroke="#979797" stroke-width="1"/>
<path d="M635,1900 L682.9,1901.9 L828.6,1861.6 L735.4,1788.1 L706.1,1796.3 Z" fill="#a6a6a6" stroke="#a6a6a6" stroke-width="1"/>
<path d="M735.4,1788.1 L720,1776 L706.1,1796.3 Z" fill="#b4b4b4" stroke="#b4b4b4" stroke-width="1"/>
<path d="M890,1910 L720,1776 M720,1776 L635,1900" stroke="#101010" stroke-width="4.2" fill="none" stroke-linecap="round"/>
<path d="M814.7,2059.7 L815,2060 L815.2,2059.6 Z" fill="#7a7a7a" stroke="#7a7a7a" stroke-width="1"/>
<path d="M731.2,1985.5 L814.7,2059.7 L815.2,2059.6 L871,1948 Z" fill="#898989" stroke="#898989" stroke-width="1"/>
<path d="M647.7,1911.3 L731.2,1985.5 L871,1948 L890,1910 L682.9,1901.9 Z" fill="#979797" stroke="#979797" stroke-width="1"/>
<path d="M635,1900 L647.7,1911.3 L682.9,1901.9 Z" fill="#a6a6a6" stroke="#a6a6a6" stroke-width="1"/>
<path d="M814.7,2059.7 L815.2,2059.6" stroke="#303030" stroke-width="2.6" stroke-dasharray="17 7" fill="none"/>
<path d="M635,1900 L815,2060 M815,2060 L890,1910" stroke="#101010" stroke-width="4.2" fill="none" stroke-linecap="round"/>
<path d="M815,2060 L815.2,2059.7 L815.2,2059.6 Z" fill="#7a7a7a" stroke="#7a7a7a" stroke-width="1"/>
<path d="M815.2,2059.7 L859.3,1993.2 L871,1948 L815.2,2059.6 Z" fill="#898989" stroke="#898989" stroke-width="1"/>
<path d="M859.3,1993.2 L903.4,1926.7 L916.9,1874.6 L890,1910 L871,1948 Z" fill="#979797" stroke="#979797" stroke-width="1"/>
<path d="M903.4,1926.7 L947.6,1860.2 L957.7,1820.9 L916.9,1874.6 Z" fill="#a6a6a6" stroke="#a6a6a6" stroke-width="1"/>
<path d="M947.6,1860.2 L991.7,1793.6 L998.5,1767.1 L957.7,1820.9 Z" fill="#b4b4b4" stroke="#b4b4b4" stroke-width="1"/>
<path d="M991.7,1793.6 L1035.8,1727.1 L1039.4,1713.4 L998.5,1767.1 Z" fill="#c3c3c3" stroke="#c3c3c3" stroke-width="1"/>
<path d="M1035.8,1727.1 L1079.9,1660.6 L1080.2,1659.7 L1039.4,1713.4 Z" fill="#d1d1d1" stroke="#d1d1d1" stroke-width="1"/>
<path d="M1079.9,1660.6 L1083,1656 L1080.2,1659.7 Z" fill="#e0e0e0" stroke="#e0e0e0" stroke-width="1"/>
<path d="M815.2,2059.7 L815.2,2059.6" stroke="#303030" stroke-width="2.6" stroke-dasharray="17 7" fill="none"/>
<path d="M1083,1656 L890,1910 M890,1910 L815,2060" stroke="#101010" stroke-width="4.2" fill="none" stroke-linecap="round"/>
<path d="M815,2060 L815.3,2059.8 L815.2,2059.7 Z" fill="#7a7a7a" stroke="#7a7a7a" stroke-width="1"/>
<path d="M815.3,2059.8 L881.4,2012 L859.3,1993.2 L815.2,2059.7 Z" fill="#898989" stroke="#898989" stroke-width="1"/>
<path d="M881.4,2012 L947.5,1964.1 L903.4,1926.7 L859.3,1993.2 Z" fill="#979797" stroke="#979797" stroke-width="1"/>
<path d="M947.5,1964.1 L1005,1922.5 L1008.2,1911.7 L947.6,1860.2 L903.4,1926.7 Z" fill="#a6a6a6" stroke="#a6a6a6" stroke-width="1"/>
<path d="M1008.2,1911.7 L1032.5,1828.4 L991.7,1793.6 L947.6,1860.2 Z" fill="#b4b4b4" stroke="#b4b4b4" stroke-width="1"/>
<path d="M1032.5,1828.4 L1056.9,1745.1 L1035.8,1727.1 L991.7,1793.6 Z" fill="#c3c3c3" stroke="#c3c3c3" stroke-width="1"/>
<path d="M1056.9,1745.1 L1081.3,1661.8 L1079.9,1660.6 L1035.8,1727.1 Z" fill="#d1d1d1" stroke="#d1d1d1" stroke-width="1"/>
<path d="M1081.3,1661.8 L1083,1656 L1079.9,1660.6 Z" fill="#e0e0e0" stroke="#e0e0e0" stroke-width="1"/>
<path d="M815.2,2059.7 L815.3,2059.8" stroke="#303030" stroke-width="2.6" stroke-dasharray="17 7" fill="none"/>
<path d="M815,2060 L1005,1922.5 M1005,1922.5 L1083,1656" stroke="#101010" stroke-width="4.2" fill="none" stroke-linecap="round"/>
<path d="M206,2089 L211.3,2086 L207.6,2085.6 Z" fill="#6c6c6c" stroke="#6c6c6c" stroke-width="1"/>
<path d="M211.3,2086 L350.4,2008.7 L250.1,1997.6 L207.6,2085.6 Z" fill="#7a7a7a" stroke="#7a7a7a" stroke-width="1"/>
<path d="M350.4,2008.7 L465,1945 L382.5,1919.5 L292.5,1909.5 L250.1,1997.6 Z" fill="#898989" stroke="#898989" stroke-width="1"/>
<path d="M382.5,1919.5 L300,1894 L292.5,1909.5 Z" fill="#979797" stroke="#979797" stroke-width="1"/>
<path d="M250.1,1997.6 L350.4,2008.7" stroke="#303030" stroke-width="2.6" stroke-dasharray="17 7" fill="none"/>
<path d="M465,1945 L300,1894 M300,1894 L206,2089" stroke="#101010" stroke-width="4.2" fill="none" stroke-linecap="round"/>
<path d="M343.7,2172.1 L377.5,2192.5 L384.3,2173.4 Z" fill="#5d5d5d" stroke="#5d5d5d" stroke-width="1"/>
<path d="M206,2089 L343.7,2172.1 L384.3,2173.4 L412.8,2092.5 L211.3,2086 Z" fill="#6c6c6c" stroke="#6c6c6c" stroke-width="1"/>
<path d="M412.8,2092.5 L441.4,2011.6 L350.4,2008.7 L211.3,2086 Z" fill="#7a7a7a" stroke="#7a7a7a" stroke-width="1"/>
<path d="M441.4,2011.6 L465,1945 L350.4,2008.7 Z" fill="#898989" stroke="#898989" stroke-width="1"/>
<path d="M350.4,2008.7 L441.4,2011.6" stroke="#303030" stroke-width="2.6" stroke-dasharray="17 7" fill="none"/>
<path d="M206,2089 L377.5,2192.5 M377.5,2192.5 L465,1945" stroke="#101010" stroke-width="4.2" fill="none" stroke-linecap="round"/>
<path d="M377.5,2192.5 L391.4,2176.8 L384.3,2173.4 Z" fill="#5d5d5d" stroke="#5d5d5d" stroke-width="1"/>
<path d="M391.4,2176.8 L450,2110.1 L412.8,2092.5 L384.3,2173.4 Z" fill="#6c6c6c" stroke="#6c6c6c" stroke-width="1"/>
<path d="M450,2110.1 L508.7,2043.5 L441.4,2011.6 L412.8,2092.5 Z" fill="#7a7a7a" stroke="#7a7a7a" stroke-width="1"/>
<path d="M508.7,2043.5 L567.4,1976.8 L487.6,1939 L465,1945 L441.4,2011.6 Z" fill="#898989" stroke="#898989" stroke-width="1"/>
<path d="M567.4,1976.8 L626.1,1910.2 L615.5,1905.2 L487.6,1939 Z" fill="#979797" stroke="#979797" stroke-width="1"/>
<path d="M626.1,1910.2 L635,1900 L615.5,1905.2 Z" fill="#a6a6a6" stroke="#a6a6a6" stroke-width="1"/>
<path d="M441.4,2011.6 L508.7,2043.5" stroke="#303030" stroke-width="2.6" stroke-dasharray="17 7" fill="none"/>
<path d="M635,1900 L465,1945 M465,1945 L377.5,2192.5" stroke="#101010" stroke-width="4.2" fill="none" stroke-linecap="round"/>
<path d="M377.5,2192.5 L509.9,2209 L391.4,2176.8 Z" fill="#5d5d5d" stroke="#5d5d5d" stroke-width="1"/>
<path d="M509.9,2209 L550,2214 L569.3,2142.6 L450,2110.1 L391.4,2176.8 Z" fill="#6c6c6c" stroke="#6c6c6c" stroke-width="1"/>
<path d="M569.3,2142.6 L590.2,2065.6 L508.7,2043.5 L450,2110.1 Z" fill="#7a7a7a" stroke="#7a7a7a" stroke-width="1"/>
<path d="M590.2,2065.6 L611,1988.7 L567.4,1976.8 L508.7,2043.5 Z" fill="#898989" stroke="#898989" stroke-width="1"/>
<path d="M611,1988.7 L631.8,1911.7 L626.1,1910.2 L567.4,1976.8 Z" fill="#979797" stroke="#979797" stroke-width="1"/>
<path d="M631.8,1911.7 L635,1900 L626.1,1910.2 Z" fill="#a6a6a6" stroke="#a6a6a6" stroke-width="1"/>
<path d="M508.7,2043.5 L590.2,2065.6" stroke="#303030" stroke-width="2.6" stroke-dasharray="17 7" fill="none"/>
<path d="M377.5,2192.5 L550,2214 M550,2214 L635,1900" stroke="#101010" stroke-width="4.2" fill="none" stroke-linecap="round"/>
<path d="M550,2214 L677.8,2139.7 L569.3,2142.6 Z" fill="#6c6c6c" stroke="#6c6c6c" stroke-width="1"/>
<path d="M677.8,2139.7 L815,2060 L814.7,2059.7 L590.2,2065.6 L569.3,2142.6 Z" fill="#7a7a7a" stroke="#7a7a7a" stroke-width="1"/>
<path d="M814.7,2059.7 L731.2,1985.5 L611,1988.7 L590.2,2065.6 Z" fill="#898989" stroke="#898989" stroke-width="1"/>
<path d="M731.2,1985.5 L647.7,1911.3 L631.8,1911.7 L611,1988.7 Z" fill="#979797" stroke="#979797" stroke-width="1"/>
<path d="M647.7,1911.3 L635,1900 L631.8,1911.7 Z" fill="#a6a6a6" stroke="#a6a6a6" stroke-width="1"/>
<path d="M590.2,2065.6 L814.7,2059.7" stroke="#303030" stroke-width="2.6" stroke-dasharray="17 7" fill="none"/>
<path d="M815,2060 L635,1900 M635,1900 L550,2214" stroke="#101010" stroke-width="4.2" fill="none" stroke-linecap="round"/>
<path d="M568.4,2222.2 L731,2295 L751.2,2238.4 Z" fill="#5d5d5d" stroke="#5d5d5d" stroke-width="1"/>
<path d="M550,2214 L568.4,2222.2 L751.2,2238.4 L783.2,2149 L677.8,2139.7 Z" fill="#6c6c6c" stroke="#6c6c6c" stroke-width="1"/>
<path d="M783.2,2149 L815,2060 L677.8,2139.7 Z" fill="#7a7a7a" stroke="#7a7a7a" stroke-width="1"/>
<path d="M550,2214 L731,2295 M731,2295 L815,2060" stroke="#101010" stroke-width="4.2" fill="none" stroke-linecap="round"/>
<path d="M731,2295 L762.6,2252.1 L751.2,2238.4 Z" fill="#5d5d5d" stroke="#5d5d5d" stroke-width="1"/>
<path d="M762.6,2252.1 L812.3,2184.4 L783.2,2149 L751.2,2238.4 Z" fill="#6c6c6c" stroke="#6c6c6c" stroke-width="1"/>
<path d="M812.3,2184.4 L862.1,2116.7 L815.3,2059.8 L815,2060 L783.2,2149 Z" fill="#7a7a7a" stroke="#7a7a7a" stroke-width="1"/>
<path d="M862.1,2116.7 L911.9,2049.1 L881.4,2012 L815.3,2059.8 Z" fill="#898989" stroke="#898989" stroke-width="1"/>
<path d="M911.9,2049.1 L961.7,1981.4 L947.5,1964.1 L881.4,2012 Z" fill="#979797" stroke="#979797" stroke-width="1"/>
<path d="M961.7,1981.4 L1005,1922.5 L947.5,1964.1 Z" fill="#a6a6a6" stroke="#a6a6a6" stroke-width="1"/>
<path d="M815.3,2059.8 L862.1,2116.7" stroke="#303030" stroke-width="2.6" stroke-dasharray="17 7" fill="none"/>
<path d="M1005,1922.5 L815,2060 M815,2060 L731,2295" stroke="#101010" stroke-width="4.2" fill="none" stroke-linecap="round"/>
<path d="M731,2295 L828.7,2279.7 L762.6,2252.1 Z" fill="#5d5d5d" stroke="#5d5d5d" stroke-width="1"/>
<path d="M828.7,2279.7 L922.5,2265 L930.1,2233.6 L812.3,2184.4 L762.6,2252.1 Z" fill="#6c6c6c" stroke="#6c6c6c" stroke-width="1"/>
<path d="M930.1,2233.6 L949.4,2153.2 L862.1,2116.7 L812.3,2184.4 Z" fill="#7a7a7a" stroke="#7a7a7a" stroke-width="1"/>
<path d="M949.4,2153.2 L968.8,2072.8 L911.9,2049.1 L862.1,2116.7 Z" fill="#898989" stroke="#898989" stroke-width="1"/>
<path d="M968.8,2072.8 L988.2,1992.4 L961.7,1981.4 L911.9,2049.1 Z" fill="#979797" stroke="#979797" stroke-width="1"/>
<path d="M988.2,1992.4 L1005,1922.5 L961.7,1981.4 Z" fill="#a6a6a6" stroke="#a6a6a6" stroke-width="1"/>
<path d="M862.1,2116.7 L949.4,2153.2" stroke="#303030" stroke-width="2.6" stroke-dasharray="17 7" fill="none"/>
<path d="M731,2295 L922.5,2265 M922.5,2265 L1005,1922.5" stroke="#101010" stroke-width="4.2" fill="none" stroke-linecap="round"/>
<text x="7.5" y="1376" font-size="75.5" text-anchor="start" fill="#000" letter-spacing="0.7">Quercetin-3-<tspan font-style="italic">O</tspan>-galactoside</text>
<text x="146.3" y="1629.5" font-size="42" text-anchor="end" fill="#000">52</text>
<text x="150.6" y="1692.4" font-size="42" text-anchor="end" fill="#000">50</text>
<text x="157.2" y="1755.6" font-size="42" text-anchor="end" fill="#000">48</text>
<text x="161.6" y="1820.3" font-size="42" text-anchor="end" fill="#000">46</text>
<text x="166.4" y="1881.8" font-size="42" text-anchor="end" fill="#000">44</text>
<text x="171.1" y="1940.3" font-size="42" text-anchor="end" fill="#000">42</text>
<text x="176.2" y="1998" font-size="42" text-anchor="end" fill="#000">40</text>
<text x="181" y="2053.6" font-size="42" text-anchor="end" fill="#000">38</text>
<text x="184.6" y="2112.8" font-size="42" text-anchor="end" fill="#000">36</text>
<text x="189.4" y="2166.2" font-size="42" text-anchor="end" fill="#000">34</text>
<text x="193.8" y="2221.8" font-size="42" text-anchor="end" fill="#000">32</text>
<text x="200.4" y="2274.8" font-size="42" text-anchor="end" fill="#000">30</text>
<text x="342" y="2340" font-size="42" text-anchor="middle" fill="#000">60</text>
<text x="510.4" y="2380.3" font-size="42" text-anchor="middle" fill="#000">45</text>
<text x="691.7" y="2424.2" font-size="42" text-anchor="middle" fill="#000">30</text>
<text x="881.9" y="2468" font-size="42" text-anchor="middle" fill="#000">15</text>
<text x="948.5" y="2436" font-size="42" text-anchor="start" fill="#000">60</text>
<text x="1022" y="2341" font-size="42" text-anchor="start" fill="#000">70</text>
<text x="1083.5" y="2255" font-size="42" text-anchor="start" fill="#000">80</text>
<text x="1145.9" y="2178.4" font-size="42" text-anchor="start" fill="#000">90</text>
<text x="1204.8" y="2107" font-size="42" text-anchor="start" fill="#000">100</text>
<text x="0" y="0" font-size="63" text-anchor="start" fill="#000" transform="translate(393.6,2477.7) rotate(13.4)" letter-spacing="1">time (min)</text>
<text x="0" y="0" font-size="60" text-anchor="start" fill="#000" transform="translate(1167.6,2380.3) rotate(-51.9)" letter-spacing="4">% MeOH</text>
<text x="0" y="0" font-size="67" text-anchor="start" fill="#000" transform="translate(84.2,2140) rotate(-94.4)">mg/100g DW</text>
<text x="1203" y="1949" font-size="67" text-anchor="start" fill="#000">concentration</text>
<text x="1184.5" y="2041.5" font-size="67.6" text-anchor="start" fill="#000">(mg/100g DW)</text>
<rect x="1234.5" y="1323" width="253.5" height="570.5" fill="#fff" stroke="#8c8c8c" stroke-width="4.5"/>
<rect x="1269.6" y="1365.4" width="111.4" height="26" fill="#404040" stroke="#555" stroke-width="3"/>
<text x="1404.7" y="1390.9" font-size="34" text-anchor="start" fill="#6a6a6a" class="lg">30</text>
<rect x="1269.6" y="1406.3" width="111.4" height="26" fill="#4f4f4f" stroke="#555" stroke-width="3"/>
<text x="1404.7" y="1431.8" font-size="34" text-anchor="start" fill="#6a6a6a" class="lg">32</text>
<rect x="1269.6" y="1447.9" width="111.4" height="26" fill="#5d5d5d" stroke="#555" stroke-width="3"/>
<text x="1404.7" y="1473.4" font-size="34" text-anchor="start" fill="#6a6a6a" class="lg">34</text>
<rect x="1269.6" y="1489.4" width="111.4" height="26" fill="#6c6c6c" stroke="#555" stroke-width="3"/>
<text x="1404.7" y="1514.9" font-size="34" text-anchor="start" fill="#6a6a6a" class="lg">36</text>
<rect x="1269.6" y="1533.6" width="111.4" height="26" fill="#7a7a7a" stroke="#555" stroke-width="3"/>
<text x="1404.7" y="1559.1" font-size="34" text-anchor="start" fill="#6a6a6a" class="lg">38</text>
<rect x="1269.6" y="1573.6" width="111.4" height="26" fill="#898989" stroke="#555" stroke-width="3"/>
<text x="1404.7" y="1599.1" font-size="34" text-anchor="start" fill="#6a6a6a" class="lg">40</text>
<rect x="1269.6" y="1616" width="111.4" height="26" fill="#979797" stroke="#555" stroke-width="3"/>
<text x="1404.7" y="1641.5" font-size="34" text-anchor="start" fill="#6a6a6a" class="lg">42</text>
<rect x="1269.6" y="1659" width="111.4" height="26" fill="#a6a6a6" stroke="#555" stroke-width="3"/>
<text x="1404.7" y="1684.5" font-size="34" text-anchor="start" fill="#6a6a6a" class="lg">44</text>
<rect x="1269.6" y="1701.7" width="111.4" height="26" fill="#b4b4b4" stroke="#555" stroke-width="3"/>
<text x="1404.7" y="1727.2" font-size="34" text-anchor="start" fill="#6a6a6a" class="lg">46</text>
<rect x="1269.6" y="1743.3" width="111.4" height="26" fill="#c3c3c3" stroke="#555" stroke-width="3"/>
<text x="1404.7" y="1768.8" font-size="34" text-anchor="start" fill="#6a6a6a" class="lg">48</text>
<rect x="1269.6" y="1785.7" width="111.4" height="26" fill="#d1d1d1" stroke="#555" stroke-width="3"/>
<text x="1404.7" y="1811.2" font-size="34" text-anchor="start" fill="#6a6a6a" class="lg">50</text>
<rect x="1269.6" y="1828.1" width="111.4" height="26" fill="#e0e0e0" stroke="#555" stroke-width="3"/>
<text x="1404.7" y="1853.6" font-size="34" text-anchor="start" fill="#6a6a6a" class="lg">52</text>
<path d="M209.7,3461.6 L567,3189.3" stroke="#cacaca" stroke-width="3.2"/>
<path d="M567,3189.3 L1198.4,3303.5" stroke="#cacaca" stroke-width="3.2"/>
<path d="M201.6,3357.8 L564.6,3098.3" stroke="#cacaca" stroke-width="3.2"/>
<path d="M564.6,3098.3 L1204.3,3206.9" stroke="#cacaca" stroke-width="3.2"/>
<path d="M193.3,3250.8 L562.2,3005.1" stroke="#cacaca" stroke-width="3.2"/>
<path d="M562.2,3005.1 L1210.3,3107.7" stroke="#cacaca" stroke-width="3.2"/>
<path d="M184.7,3140.6 L559.6,2909.5" stroke="#cacaca" stroke-width="3.2"/>
<path d="M559.6,2909.5 L1216.6,3005.8" stroke="#cacaca" stroke-width="3.2"/>
<path d="M175.8,3027 L557.1,2811.4" stroke="#cacaca" stroke-width="3.2"/>
<path d="M557.1,2811.4 L1222.9,2901" stroke="#cacaca" stroke-width="3.2"/>
<path d="M316.9,3482.2 L277.3,2853" stroke="#cacaca" stroke-width="3.2"/>
<path d="M716.7,3306.3 L713.3,2730.1" stroke="#cacaca" stroke-width="3.2"/>
<path d="M384.7,3602 L716.7,3306.3" stroke="#cacaca" stroke-width="3.2"/>
<path d="M316.9,3482.2 L1006.1,3636.2" stroke="#cacaca" stroke-width="3.2"/>
<path d="M408,3408.5 L378,2801.3" stroke="#cacaca" stroke-width="3.2"/>
<path d="M869.6,3335.6 L878.5,2750.3" stroke="#cacaca" stroke-width="3.2"/>
<path d="M559,3643.3 L869.6,3335.6" stroke="#cacaca" stroke-width="3.2"/>
<path d="M408,3408.5 L1073.9,3549.5" stroke="#cacaca" stroke-width="3.2"/>
<path d="M491.9,3340.7 L470,2754" stroke="#cacaca" stroke-width="3.2"/>
<path d="M1028.1,3366 L1050.4,2771.3" stroke="#cacaca" stroke-width="3.2"/>
<path d="M741.1,3686.4 L1028.1,3366" stroke="#cacaca" stroke-width="3.2"/>
<path d="M491.9,3340.7 L1135.8,3470.3" stroke="#cacaca" stroke-width="3.2"/>
<path d="M166.7,2909.8 L554.4,2710.7" stroke="#505050" stroke-width="3.4"/>
<path d="M554.4,2710.7 L1229.5,2793.2" stroke="#505050" stroke-width="3.4"/>
<path d="M569.4,3278.1 L554.4,2710.7" stroke="#505050" stroke-width="3.4"/>
<path d="M217.6,3562.5 L166.7,2909.8" stroke="#505050" stroke-width="3.4"/>
<path d="M217.6,3562.5 L931.6,3731.5" stroke="#505050" stroke-width="3.4"/>
<path d="M931.6,3731.5 L1192.7,3397.5" stroke="#505050" stroke-width="3.4"/>
<path d="M217.6,3562.5 L569.4,3278.1" stroke="#505050" stroke-width="3.4"/>
<path d="M569.4,3278.1 L1192.7,3397.5" stroke="#505050" stroke-width="3.4"/>
<path d="M1192.7,3397.5 L1229.5,2793.2" stroke="#7c7c7c" stroke-width="3"/>
<path d="M217.6,3562.5 L211.6,3564" stroke="#505050" stroke-width="3.4"/>
<path d="M209.7,3461.6 L203.7,3463.1" stroke="#505050" stroke-width="3.4"/>
<path d="M201.6,3357.8 L195.6,3359.3" stroke="#505050" stroke-width="3.4"/>
<path d="M193.3,3250.8 L187.3,3252.3" stroke="#505050" stroke-width="3.4"/>
<path d="M184.7,3140.6 L178.7,3142.1" stroke="#505050" stroke-width="3.4"/>
<path d="M175.8,3027 L169.8,3028.5" stroke="#505050" stroke-width="3.4"/>
<path d="M166.7,2909.8 L160.7,2911.3" stroke="#505050" stroke-width="3.4"/>
<path d="M384.7,3602 L380.2,3606" stroke="#505050" stroke-width="3.4"/>
<path d="M559,3643.3 L554.7,3647.5" stroke="#505050" stroke-width="3.4"/>
<path d="M741.1,3686.4 L737.1,3690.9" stroke="#505050" stroke-width="3.4"/>
<path d="M931.6,3731.5 L927.9,3736.2" stroke="#505050" stroke-width="3.4"/>
<path d="M931.6,3731.5 L937.4,3732.8" stroke="#505050" stroke-width="3.4"/>
<path d="M1006.1,3636.2 L1011.9,3637.5" stroke="#505050" stroke-width="3.4"/>
<path d="M1073.9,3549.5 L1079.7,3550.8" stroke="#505050" stroke-width="3.4"/>
<path d="M1135.8,3470.3 L1141.7,3471.4" stroke="#505050" stroke-width="3.4"/>
<path d="M1192.7,3397.5 L1198.6,3398.6" stroke="#505050" stroke-width="3.4"/>
<path d="M490,3120 L666.1,3035.9 L673.1,3022.3 L564,3048 Z" fill="#909090" stroke="#909090" stroke-width="1"/>
<path d="M666.1,3035.9 L715,3012.5 L673.1,3022.3 Z" fill="#ababab" stroke="#ababab" stroke-width="1"/>
<path d="M715,3012.5 L564,3048 M564,3048 L490,3120" stroke="#101010" stroke-width="4.2" fill="none" stroke-linecap="round"/>
<path d="M490,3120 L642.5,3095 L668.7,3065.2 L666.1,3035.9 Z" fill="#909090" stroke="#909090" stroke-width="1"/>
<path d="M668.7,3065.2 L715,3012.5 L666.1,3035.9 Z" fill="#ababab" stroke="#ababab" stroke-width="1"/>
<path d="M490,3120 L642.5,3095 M642.5,3095 L715,3012.5" stroke="#101010" stroke-width="4.2" fill="none" stroke-linecap="round"/>
<path d="M642.5,3095 L659.9,3082.9 L668.7,3065.2 Z" fill="#909090" stroke="#909090" stroke-width="1"/>
<path d="M659.9,3082.9 L835.3,2960.8 L840.6,2950.1 L715,3012.5 L668.7,3065.2 Z" fill="#ababab" stroke="#ababab" stroke-width="1"/>
<path d="M835.3,2960.8 L876,2932.5 L840.6,2950.1 Z" fill="#c5c5c5" stroke="#c5c5c5" stroke-width="1"/>
<path d="M876,2932.5 L715,3012.5 M715,3012.5 L642.5,3095" stroke="#101010" stroke-width="4.2" fill="none" stroke-linecap="round"/>
<path d="M642.5,3095 L677.2,3090.8 L659.9,3082.9 Z" fill="#909090" stroke="#909090" stroke-width="1"/>
<path d="M677.2,3090.8 L804.5,3075.5 L856.9,2970.8 L835.3,2960.8 L659.9,3082.9 Z" fill="#ababab" stroke="#ababab" stroke-width="1"/>
<path d="M856.9,2970.8 L876,2932.5 L835.3,2960.8 Z" fill="#c5c5c5" stroke="#c5c5c5" stroke-width="1"/>
<path d="M642.5,3095 L804.5,3075.5 M804.5,3075.5 L876,2932.5" stroke="#101010" stroke-width="4.2" fill="none" stroke-linecap="round"/>
<path d="M804.5,3075.5 L1037.5,3046 L918.3,2962.2 L856.9,2970.8 Z" fill="#ababab" stroke="#ababab" stroke-width="1"/>
<path d="M918.3,2962.2 L876,2932.5 L856.9,2970.8 Z" fill="#c5c5c5" stroke="#c5c5c5" stroke-width="1"/>
<path d="M1037.5,3046 L876,2932.5 M876,2932.5 L804.5,3075.5" stroke="#101010" stroke-width="4.2" fill="none" stroke-linecap="round"/>
<path d="M965.1,3139.6 L972.5,3142.5 L975.5,3138 Z" fill="#909090" stroke="#909090" stroke-width="1"/>
<path d="M804.5,3075.5 L965.1,3139.6 L975.5,3138 L1037.5,3046 Z" fill="#ababab" stroke="#ababab" stroke-width="1"/>
<path d="M804.5,3075.5 L972.5,3142.5 M972.5,3142.5 L1037.5,3046" stroke="#101010" stroke-width="4.2" fill="none" stroke-linecap="round"/>
<path d="M972.5,3142.5 L975.1,3140.4 L975.5,3138 Z" fill="#909090" stroke="#909090" stroke-width="1"/>
<path d="M975.1,3140.4 L1128.8,3017.4 L1133.3,2992.4 L1037.5,3046 L975.5,3138 Z" fill="#ababab" stroke="#ababab" stroke-width="1"/>
<path d="M1128.8,3017.4 L1222.5,2942.5 L1133.3,2992.4 Z" fill="#c5c5c5" stroke="#c5c5c5" stroke-width="1"/>
<path d="M1222.5,2942.5 L1037.5,3046 M1037.5,3046 L972.5,3142.5" stroke="#101010" stroke-width="4.2" fill="none" stroke-linecap="round"/>
<path d="M972.5,3142.5 L974,3140.9 L975.1,3140.4 Z" fill="#909090" stroke="#909090" stroke-width="1"/>
<path d="M974,3140.9 L1065.9,3047.9 L1128.8,3017.4 L975.1,3140.4 Z" fill="#ababab" stroke="#ababab" stroke-width="1"/>
<path d="M1065.9,3047.9 L1157.7,2954.9 L1174.7,2946.7 L1222.5,2942.5 L1128.8,3017.4 Z" fill="#c5c5c5" stroke="#c5c5c5" stroke-width="1"/>
<path d="M1157.7,2954.9 L1165,2947.5 L1174.7,2946.7 Z" fill="#e0e0e0" stroke="#e0e0e0" stroke-width="1"/>
<path d="M972.5,3142.5 L1165,2947.5 M1165,2947.5 L1222.5,2942.5" stroke="#101010" stroke-width="4.2" fill="none" stroke-linecap="round"/>
<path d="M400,3150 L642.5,3095 L490,3120 Z" fill="#909090" stroke="#909090" stroke-width="1"/>
<path d="M642.5,3095 L490,3120 M490,3120 L400,3150" stroke="#101010" stroke-width="4.2" fill="none" stroke-linecap="round"/>
<path d="M400,3150 L562.5,3167.5 L642.5,3095 Z" fill="#909090" stroke="#909090" stroke-width="1"/>
<path d="M400,3150 L562.5,3167.5 M562.5,3167.5 L642.5,3095" stroke="#101010" stroke-width="4.2" fill="none" stroke-linecap="round"/>
<path d="M562.5,3167.5 L651.2,3133.8 L677.2,3090.8 L642.5,3095 Z" fill="#909090" stroke="#909090" stroke-width="1"/>
<path d="M651.2,3133.8 L804.5,3075.5 L677.2,3090.8 Z" fill="#ababab" stroke="#ababab" stroke-width="1"/>
<path d="M804.5,3075.5 L642.5,3095 M642.5,3095 L562.5,3167.5" stroke="#101010" stroke-width="4.2" fill="none" stroke-linecap="round"/>
<path d="M562.5,3167.5 L614.4,3154.9 L651.2,3133.8 Z" fill="#909090" stroke="#909090" stroke-width="1"/>
<path d="M614.4,3154.9 L727.5,3127.5 L804.5,3075.5 L651.2,3133.8 Z" fill="#ababab" stroke="#ababab" stroke-width="1"/>
<path d="M562.5,3167.5 L727.5,3127.5 M727.5,3127.5 L804.5,3075.5" stroke="#101010" stroke-width="4.2" fill="none" stroke-linecap="round"/>
<path d="M963.9,3142 L972.5,3142.5 L965.1,3139.6 Z" fill="#909090" stroke="#909090" stroke-width="1"/>
<path d="M727.5,3127.5 L963.9,3142 L965.1,3139.6 L804.5,3075.5 Z" fill="#ababab" stroke="#ababab" stroke-width="1"/>
<path d="M972.5,3142.5 L804.5,3075.5 M804.5,3075.5 L727.5,3127.5" stroke="#101010" stroke-width="4.2" fill="none" stroke-linecap="round"/>
<path d="M807.9,3190.4 L900,3262.5 L972.5,3142.5 L963.9,3142 Z" fill="#909090" stroke="#909090" stroke-width="1"/>
<path d="M727.5,3127.5 L807.9,3190.4 L963.9,3142 Z" fill="#ababab" stroke="#ababab" stroke-width="1"/>
<path d="M727.5,3127.5 L900,3262.5 M900,3262.5 L972.5,3142.5" stroke="#101010" stroke-width="4.2" fill="none" stroke-linecap="round"/>
<path d="M900,3262.5 L953.7,3198.7 L974,3140.9 L972.5,3142.5 Z" fill="#909090" stroke="#909090" stroke-width="1"/>
<path d="M953.7,3198.7 L1055.3,3077.9 L1065.9,3047.9 L974,3140.9 Z" fill="#ababab" stroke="#ababab" stroke-width="1"/>
<path d="M1055.3,3077.9 L1157,2957.1 L1157.7,2954.9 L1065.9,3047.9 Z" fill="#c5c5c5" stroke="#c5c5c5" stroke-width="1"/>
<path d="M1157,2957.1 L1165,2947.5 L1157.7,2954.9 Z" fill="#e0e0e0" stroke="#e0e0e0" stroke-width="1"/>
<path d="M1165,2947.5 L972.5,3142.5 M972.5,3142.5 L900,3262.5" stroke="#101010" stroke-width="4.2" fill="none" stroke-linecap="round"/>
<path d="M900,3262.5 L944.2,3212 L953.7,3198.7 Z" fill="#909090" stroke="#909090" stroke-width="1"/>
<path d="M944.2,3212 L1027.9,3116.4 L1055.3,3077.9 L953.7,3198.7 Z" fill="#ababab" stroke="#ababab" stroke-width="1"/>
<path d="M1027.9,3116.4 L1092.5,3042.5 L1146.3,2972 L1157,2957.1 L1055.3,3077.9 Z" fill="#c5c5c5" stroke="#c5c5c5" stroke-width="1"/>
<path d="M1146.3,2972 L1165,2947.5 L1157,2957.1 Z" fill="#e0e0e0" stroke="#e0e0e0" stroke-width="1"/>
<path d="M900,3262.5 L1092.5,3042.5 M1092.5,3042.5 L1165,2947.5" stroke="#101010" stroke-width="4.2" fill="none" stroke-linecap="round"/>
<path d="M305,3260 L562.5,3167.5 L400,3150 Z" fill="#909090" stroke="#909090" stroke-width="1"/>
<path d="M562.5,3167.5 L400,3150 M400,3150 L305,3260" stroke="#101010" stroke-width="4.2" fill="none" stroke-linecap="round"/>
<path d="M305,3260 L470,3287.5 L562.5,3167.5 Z" fill="#909090" stroke="#909090" stroke-width="1"/>
<path d="M305,3260 L470,3287.5 M470,3287.5 L562.5,3167.5" stroke="#101010" stroke-width="4.2" fill="none" stroke-linecap="round"/>
<path d="M470,3287.5 L626.5,3190.3 L614.4,3154.9 L562.5,3167.5 Z" fill="#909090" stroke="#909090" stroke-width="1"/>
<path d="M626.5,3190.3 L727.5,3127.5 L614.4,3154.9 Z" fill="#ababab" stroke="#ababab" stroke-width="1"/>
<path d="M727.5,3127.5 L562.5,3167.5 M562.5,3167.5 L470,3287.5" stroke="#101010" stroke-width="4.2" fill="none" stroke-linecap="round"/>
<path d="M470,3287.5 L644.5,3254 L657.1,3234.8 L626.5,3190.3 Z" fill="#909090" stroke="#909090" stroke-width="1"/>
<path d="M657.1,3234.8 L727.5,3127.5 L626.5,3190.3 Z" fill="#ababab" stroke="#ababab" stroke-width="1"/>
<path d="M470,3287.5 L644.5,3254 M644.5,3254 L727.5,3127.5" stroke="#101010" stroke-width="4.2" fill="none" stroke-linecap="round"/>
<path d="M644.5,3254 L900,3262.5 L807.9,3190.4 L657.1,3234.8 Z" fill="#909090" stroke="#909090" stroke-width="1"/>
<path d="M807.9,3190.4 L727.5,3127.5 L657.1,3234.8 Z" fill="#ababab" stroke="#ababab" stroke-width="1"/>
<path d="M900,3262.5 L727.5,3127.5 M727.5,3127.5 L644.5,3254" stroke="#101010" stroke-width="4.2" fill="none" stroke-linecap="round"/>
<path d="M818.3,3397.8 L824,3402.5 L828.5,3394.1 Z" fill="#757575" stroke="#757575" stroke-width="1"/>
<path d="M644.5,3254 L818.3,3397.8 L828.5,3394.1 L900,3262.5 Z" fill="#909090" stroke="#909090" stroke-width="1"/>
<path d="M818.3,3397.8 L828.5,3394.1" stroke="#303030" stroke-width="2.6" stroke-dasharray="17 7" fill="none"/>
<path d="M644.5,3254 L824,3402.5 M824,3402.5 L900,3262.5" stroke="#101010" stroke-width="4.2" fill="none" stroke-linecap="round"/>
<path d="M824,3402.5 L826.9,3398.6 L828.5,3394.1 Z" fill="#757575" stroke="#757575" stroke-width="1"/>
<path d="M826.9,3398.6 L922.7,3270.2 L944.2,3212 L900,3262.5 L828.5,3394.1 Z" fill="#909090" stroke="#909090" stroke-width="1"/>
<path d="M922.7,3270.2 L1018.5,3141.7 L1027.9,3116.4 L944.2,3212 Z" fill="#ababab" stroke="#ababab" stroke-width="1"/>
<path d="M1018.5,3141.7 L1092.5,3042.5 L1027.9,3116.4 Z" fill="#c5c5c5" stroke="#c5c5c5" stroke-width="1"/>
<path d="M826.9,3398.6 L828.5,3394.1" stroke="#303030" stroke-width="2.6" stroke-dasharray="17 7" fill="none"/>
<path d="M1092.5,3042.5 L900,3262.5 M900,3262.5 L824,3402.5" stroke="#101010" stroke-width="4.2" fill="none" stroke-linecap="round"/>
<path d="M824,3402.5 L827.7,3399.7 L826.9,3398.6 Z" fill="#757575" stroke="#757575" stroke-width="1"/>
<path d="M827.7,3399.7 L952.7,3305.1 L922.7,3270.2 L826.9,3398.6 Z" fill="#909090" stroke="#909090" stroke-width="1"/>
<path d="M952.7,3305.1 L1017.5,3256 L1046.3,3174 L1018.5,3141.7 L922.7,3270.2 Z" fill="#ababab" stroke="#ababab" stroke-width="1"/>
<path d="M1046.3,3174 L1092.5,3042.5 L1018.5,3141.7 Z" fill="#c5c5c5" stroke="#c5c5c5" stroke-width="1"/>
<path d="M826.9,3398.6 L827.7,3399.7" stroke="#303030" stroke-width="2.6" stroke-dasharray="17 7" fill="none"/>
<path d="M824,3402.5 L1017.5,3256 M1017.5,3256 L1092.5,3042.5" stroke="#101010" stroke-width="4.2" fill="none" stroke-linecap="round"/>
<path d="M209,3462.5 L210.6,3461.4 L209.6,3461.2 Z" fill="#5b5b5b" stroke="#5b5b5b" stroke-width="1"/>
<path d="M210.6,3461.4 L412.1,3326.3 L286.8,3298.4 L209.6,3461.2 Z" fill="#757575" stroke="#757575" stroke-width="1"/>
<path d="M412.1,3326.3 L470,3287.5 L305,3260 L286.8,3298.4 Z" fill="#909090" stroke="#909090" stroke-width="1"/>
<path d="M286.8,3298.4 L412.1,3326.3" stroke="#303030" stroke-width="2.6" stroke-dasharray="17 7" fill="none"/>
<path d="M470,3287.5 L305,3260 M305,3260 L209,3462.5" stroke="#101010" stroke-width="4.2" fill="none" stroke-linecap="round"/>
<path d="M209,3462.5 L382.5,3549 L406.3,3478 L210.6,3461.4 Z" fill="#5b5b5b" stroke="#5b5b5b" stroke-width="1"/>
<path d="M406.3,3478 L455.8,3330 L412.1,3326.3 L210.6,3461.4 Z" fill="#757575" stroke="#757575" stroke-width="1"/>
<path d="M455.8,3330 L470,3287.5 L412.1,3326.3 Z" fill="#909090" stroke="#909090" stroke-width="1"/>
<path d="M412.1,3326.3 L455.8,3330" stroke="#303030" stroke-width="2.6" stroke-dasharray="17 7" fill="none"/>
<path d="M209,3462.5 L382.5,3549 M382.5,3549 L470,3287.5" stroke="#101010" stroke-width="4.2" fill="none" stroke-linecap="round"/>
<path d="M382.5,3549 L435,3489.9 L406.3,3478 Z" fill="#5b5b5b" stroke="#5b5b5b" stroke-width="1"/>
<path d="M435,3489.9 L544.2,3366.9 L455.8,3330 L406.3,3478 Z" fill="#757575" stroke="#757575" stroke-width="1"/>
<path d="M544.2,3366.9 L644.5,3254 L470,3287.5 L455.8,3330 Z" fill="#909090" stroke="#909090" stroke-width="1"/>
<path d="M455.8,3330 L544.2,3366.9" stroke="#303030" stroke-width="2.6" stroke-dasharray="17 7" fill="none"/>
<path d="M644.5,3254 L470,3287.5 M470,3287.5 L382.5,3549" stroke="#101010" stroke-width="4.2" fill="none" stroke-linecap="round"/>
<path d="M382.5,3549 L557.5,3569 L568.7,3528.5 L435,3489.9 Z" fill="#5b5b5b" stroke="#5b5b5b" stroke-width="1"/>
<path d="M568.7,3528.5 L608.2,3385.3 L544.2,3366.9 L435,3489.9 Z" fill="#757575" stroke="#757575" stroke-width="1"/>
<path d="M608.2,3385.3 L644.5,3254 L544.2,3366.9 Z" fill="#909090" stroke="#909090" stroke-width="1"/>
<path d="M544.2,3366.9 L608.2,3385.3" stroke="#303030" stroke-width="2.6" stroke-dasharray="17 7" fill="none"/>
<path d="M382.5,3549 L557.5,3569 M557.5,3569 L644.5,3254" stroke="#101010" stroke-width="4.2" fill="none" stroke-linecap="round"/>
<path d="M557.5,3569 L617.7,3531.4 L568.7,3528.5 Z" fill="#5b5b5b" stroke="#5b5b5b" stroke-width="1"/>
<path d="M617.7,3531.4 L824,3402.5 L818.3,3397.8 L608.2,3385.3 L568.7,3528.5 Z" fill="#757575" stroke="#757575" stroke-width="1"/>
<path d="M818.3,3397.8 L644.5,3254 L608.2,3385.3 Z" fill="#909090" stroke="#909090" stroke-width="1"/>
<path d="M608.2,3385.3 L818.3,3397.8" stroke="#303030" stroke-width="2.6" stroke-dasharray="17 7" fill="none"/>
<path d="M824,3402.5 L644.5,3254 M644.5,3254 L557.5,3569" stroke="#101010" stroke-width="4.2" fill="none" stroke-linecap="round"/>
<path d="M557.5,3569 L739,3629 L766.1,3556.9 L617.7,3531.4 Z" fill="#5b5b5b" stroke="#5b5b5b" stroke-width="1"/>
<path d="M766.1,3556.9 L824,3402.5 L617.7,3531.4 Z" fill="#757575" stroke="#757575" stroke-width="1"/>
<path d="M557.5,3569 L739,3629 M739,3629 L824,3402.5" stroke="#101010" stroke-width="4.2" fill="none" stroke-linecap="round"/>
<path d="M739,3629 L781.5,3572.1 L766.1,3556.9 Z" fill="#5b5b5b" stroke="#5b5b5b" stroke-width="1"/>
<path d="M781.5,3572.1 L875.2,3446.6 L827.7,3399.7 L824,3402.5 L766.1,3556.9 Z" fill="#757575" stroke="#757575" stroke-width="1"/>
<path d="M875.2,3446.6 L968.9,3321.1 L952.7,3305.1 L827.7,3399.7 Z" fill="#909090" stroke="#909090" stroke-width="1"/>
<path d="M968.9,3321.1 L1017.5,3256 L952.7,3305.1 Z" fill="#ababab" stroke="#ababab" stroke-width="1"/>
<path d="M827.7,3399.7 L875.2,3446.6" stroke="#303030" stroke-width="2.6" stroke-dasharray="17 7" fill="none"/>
<path d="M1017.5,3256 L824,3402.5 M824,3402.5 L739,3629" stroke="#101010" stroke-width="4.2" fill="none" stroke-linecap="round"/>
<path d="M739,3629 L856.5,3606.1 L781.5,3572.1 Z" fill="#5b5b5b" stroke="#5b5b5b" stroke-width="1"/>
<path d="M856.5,3606.1 L934,3591 L960.4,3485.2 L875.2,3446.6 L781.5,3572.1 Z" fill="#757575" stroke="#757575" stroke-width="1"/>
<path d="M960.4,3485.2 L998,3334.3 L968.9,3321.1 L875.2,3446.6 Z" fill="#909090" stroke="#909090" stroke-width="1"/>
<path d="M998,3334.3 L1017.5,3256 L968.9,3321.1 Z" fill="#ababab" stroke="#ababab" stroke-width="1"/>
<path d="M875.2,3446.6 L960.4,3485.2" stroke="#303030" stroke-width="2.6" stroke-dasharray="17 7" fill="none"/>
<path d="M739,3629 L934,3591 M934,3591 L1017.5,3256" stroke="#101010" stroke-width="4.2" fill="none" stroke-linecap="round"/>
<text x="6" y="2676" font-size="76" text-anchor="start" fill="#000" letter-spacing="0.7">Quercetin-3-<tspan font-style="italic">O</tspan>-rhamnoside</text>
<text x="146.3" y="2932.4" font-size="42.7" text-anchor="end" fill="#000">28</text>
<text x="153.6" y="3050.1" font-size="42.7" text-anchor="end" fill="#000">26</text>
<text x="162.7" y="3165.3" font-size="42.7" text-anchor="end" fill="#000">24</text>
<text x="172.6" y="3277.6" font-size="42.7" text-anchor="end" fill="#000">22</text>
<text x="181" y="3384.7" font-size="42.7" text-anchor="end" fill="#000">20</text>
<text x="189.4" y="3487.1" font-size="42.7" text-anchor="end" fill="#000">18</text>
<text x="200.4" y="3585.8" font-size="42.7" text-anchor="end" fill="#000">16</text>
<text x="344.6" y="3655.1" font-size="42.7" text-anchor="middle" fill="#000">60</text>
<text x="515.8" y="3696.1" font-size="42.7" text-anchor="middle" fill="#000">45</text>
<text x="700.2" y="3740.7" font-size="42.7" text-anchor="middle" fill="#000">30</text>
<text x="893.6" y="3785.2" font-size="42.7" text-anchor="middle" fill="#000">15</text>
<text x="961.4" y="3752.7" font-size="42.7" text-anchor="start" fill="#000">60</text>
<text x="1036.1" y="3656.1" font-size="42.7" text-anchor="start" fill="#000">70</text>
<text x="1098.7" y="3568.6" font-size="42.7" text-anchor="start" fill="#000">80</text>
<text x="1162.1" y="3490.7" font-size="42.7" text-anchor="start" fill="#000">90</text>
<text x="1222" y="3418.1" font-size="42.7" text-anchor="start" fill="#000">100</text>
<text x="0" y="0" font-size="64.1" text-anchor="start" fill="#000" transform="translate(403.6,3793.4) rotate(13.4)" letter-spacing="1">time (min)</text>
<text x="0" y="0" font-size="61" text-anchor="start" fill="#000" transform="translate(1184.2,3696.1) rotate(-51.9)" letter-spacing="4">% MeOH</text>
<text x="0" y="0" font-size="66.1" text-anchor="start" fill="#000" transform="translate(87.5,3444.5) rotate(-94.4)">mg/100g DW</text>
<text x="1219.2" y="3256.4" font-size="67.1" text-anchor="start" fill="#000">concentration</text>
<text x="1202.4" y="3356.6" font-size="67.1" text-anchor="start" fill="#000">(mg/100g DW)</text>
<rect x="1247" y="2804.5" width="252" height="365" fill="#fff" stroke="#8c8c8c" stroke-width="4.5"/>
<rect x="1281.3" y="2845" width="111.2" height="26" fill="#404040" stroke="#555" stroke-width="3"/>
<text x="1417.9" y="2870.5" font-size="34" text-anchor="start" fill="#6a6a6a" class="lg">16</text>
<rect x="1281.3" y="2887.4" width="111.2" height="26" fill="#5b5b5b" stroke="#555" stroke-width="3"/>
<text x="1417.9" y="2912.9" font-size="34" text-anchor="start" fill="#6a6a6a" class="lg">18</text>
<rect x="1281.3" y="2931.3" width="111.2" height="26" fill="#757575" stroke="#555" stroke-width="3"/>
<text x="1417.9" y="2956.8" font-size="34" text-anchor="start" fill="#6a6a6a" class="lg">20</text>
<rect x="1281.3" y="2972.8" width="111.2" height="26" fill="#909090" stroke="#555" stroke-width="3"/>
<text x="1417.9" y="2998.3" font-size="34" text-anchor="start" fill="#6a6a6a" class="lg">22</text>
<rect x="1281.3" y="3016.1" width="111.2" height="26" fill="#ababab" stroke="#555" stroke-width="3"/>
<text x="1417.9" y="3041.6" font-size="34" text-anchor="start" fill="#6a6a6a" class="lg">24</text>
<rect x="1281.3" y="3058.5" width="111.2" height="26" fill="#c5c5c5" stroke="#555" stroke-width="3"/>
<text x="1417.9" y="3084" font-size="34" text-anchor="start" fill="#6a6a6a" class="lg">26</text>
<rect x="1281.3" y="3100.9" width="111.2" height="26" fill="#e0e0e0" stroke="#555" stroke-width="3"/>
<text x="1417.9" y="3126.4" font-size="34" text-anchor="start" fill="#6a6a6a" class="lg">28</text>
</g>
</svg>
</body></html>
